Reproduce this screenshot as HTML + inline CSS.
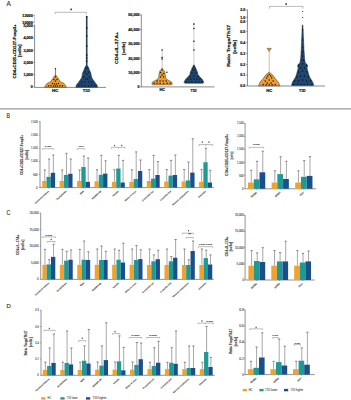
<!DOCTYPE html><html><head><meta charset="utf-8"><style>html,body{margin:0;padding:0;background:#fff;width:351px;height:400px;overflow:hidden}svg{display:block}</style></head><body><svg width="351" height="400" viewBox="0 0 351 400" font-family="Liberation Sans, sans-serif">
<rect width="351" height="400" fill="#fff"/>
<text x="6.5" y="6.0" font-size="6.6" text-anchor="start" font-weight="normal" fill="#333" stroke="#333" stroke-width="0.14" textLength="4.3" lengthAdjust="spacingAndGlyphs">A</text>
<line x1="34.6" y1="15" x2="34.6" y2="23.2" stroke="#999" stroke-width="0.5"/>
<line x1="34.6" y1="24.6" x2="34.6" y2="87.4" stroke="#3a3a3a" stroke-width="0.6"/>
<line x1="33.4" y1="15.5" x2="34.6" y2="15.5" stroke="#3a3a3a" stroke-width="0.5"/>
<text x="32.8" y="16.8" font-size="3.8" text-anchor="end" font-weight="bold" fill="#1a1a1a" stroke="#1a1a1a" stroke-width="0.22" textLength="10.5" lengthAdjust="spacingAndGlyphs">12000</text>
<line x1="33.4" y1="22.2" x2="34.6" y2="22.2" stroke="#3a3a3a" stroke-width="0.5"/>
<text x="32.8" y="23.5" font-size="3.8" text-anchor="end" font-weight="bold" fill="#1a1a1a" stroke="#1a1a1a" stroke-width="0.22" textLength="10.5" lengthAdjust="spacingAndGlyphs">10000</text>
<line x1="33.4" y1="25.8" x2="34.6" y2="25.8" stroke="#3a3a3a" stroke-width="0.5"/>
<text x="32.8" y="27.1" font-size="3.8" text-anchor="end" font-weight="bold" fill="#1a1a1a" stroke="#1a1a1a" stroke-width="0.22" textLength="9.4" lengthAdjust="spacingAndGlyphs">5,000</text>
<line x1="33.4" y1="38.1" x2="34.6" y2="38.1" stroke="#3a3a3a" stroke-width="0.5"/>
<text x="32.8" y="39.4" font-size="3.8" text-anchor="end" font-weight="bold" fill="#1a1a1a" stroke="#1a1a1a" stroke-width="0.22" textLength="9.4" lengthAdjust="spacingAndGlyphs">4,000</text>
<line x1="33.4" y1="50.3" x2="34.6" y2="50.3" stroke="#3a3a3a" stroke-width="0.5"/>
<text x="32.8" y="51.599999999999994" font-size="3.8" text-anchor="end" font-weight="bold" fill="#1a1a1a" stroke="#1a1a1a" stroke-width="0.22" textLength="9.4" lengthAdjust="spacingAndGlyphs">3,000</text>
<line x1="33.4" y1="62.4" x2="34.6" y2="62.4" stroke="#3a3a3a" stroke-width="0.5"/>
<text x="32.8" y="63.699999999999996" font-size="3.8" text-anchor="end" font-weight="bold" fill="#1a1a1a" stroke="#1a1a1a" stroke-width="0.22" textLength="9.4" lengthAdjust="spacingAndGlyphs">2,000</text>
<line x1="33.4" y1="74.6" x2="34.6" y2="74.6" stroke="#3a3a3a" stroke-width="0.5"/>
<text x="32.8" y="75.89999999999999" font-size="3.8" text-anchor="end" font-weight="bold" fill="#1a1a1a" stroke="#1a1a1a" stroke-width="0.22" textLength="9.4" lengthAdjust="spacingAndGlyphs">1,000</text>
<line x1="33.4" y1="86.9" x2="34.6" y2="86.9" stroke="#3a3a3a" stroke-width="0.5"/>
<text x="32.8" y="88.2" font-size="3.8" text-anchor="end" font-weight="bold" fill="#1a1a1a" stroke="#1a1a1a" stroke-width="0.22" textLength="2" lengthAdjust="spacingAndGlyphs">0</text>
<text x="16.1" y="51.4" font-size="3.9" text-anchor="middle" font-weight="bold" fill="#1a1a1a" stroke="#1a1a1a" stroke-width="0.22" transform="rotate(-90 16.1 51.4)" textLength="54" lengthAdjust="spacingAndGlyphs">CD4+CD25+CD127-Foxp3+</text>
<text x="21.4" y="50.7" font-size="3.9" text-anchor="middle" font-weight="bold" fill="#1a1a1a" stroke="#1a1a1a" stroke-width="0.22" transform="rotate(-90 21.4 50.7)" textLength="12.4" lengthAdjust="spacingAndGlyphs">[cells]</text>
<line x1="34.6" y1="87.4" x2="106" y2="87.4" stroke="#3a3a3a" stroke-width="0.6"/>
<text x="55.2" y="92.2" font-size="3.6" text-anchor="middle" font-weight="bold" fill="#1a1a1a" stroke="#1a1a1a" stroke-width="0.22" textLength="6.4" lengthAdjust="spacingAndGlyphs">HC</text>
<text x="86.4" y="92.2" font-size="3.6" text-anchor="middle" font-weight="bold" fill="#1a1a1a" stroke="#1a1a1a" stroke-width="0.22" textLength="7.2" lengthAdjust="spacingAndGlyphs">T1D</text>
<path d="M55.1 14.200000000000001 V12.3 H86.5 V14.200000000000001" fill="none" stroke="#6a6a6a" stroke-width="0.45"/>
<path d="M71.20 8.45 L71.20 10.35 M70.38 8.93 L72.02 9.88 M72.02 8.93 L70.38 9.88 " stroke="#111" stroke-width="0.55" fill="none"/>
<line x1="55.5" y1="68.7" x2="55.5" y2="75.5" stroke="#EE9E2E" stroke-width="1.2"/>
<line x1="55.5" y1="68.7" x2="55.5" y2="75.5" stroke="#444" stroke-width="0.35"/>
<circle cx="55.5" cy="68.7" r="0.65" fill="#1a1a1a"/>
<path d="M56.20 75.50 L57.30 77.00 L58.80 79.20 L60.10 81.50 L64.20 83.60 L66.20 86.70 L66.20 87.20 L44.80 87.20 L44.80 86.70 L46.80 83.60 L50.90 81.50 L52.20 79.20 L53.70 77.00 L54.80 75.50 Z" fill="#EE9E2E" stroke="#1a1a1a" stroke-width="0.45"/>
<circle cx="55.50" cy="77.00" r="0.78" fill="#1a1a1a"/>
<circle cx="54.00" cy="79.50" r="0.78" fill="#1a1a1a"/>
<circle cx="57.00" cy="79.50" r="0.78" fill="#1a1a1a"/>
<circle cx="55.50" cy="81.00" r="0.78" fill="#1a1a1a"/>
<circle cx="52.50" cy="83.50" r="0.78" fill="#1a1a1a"/>
<circle cx="54.50" cy="84.00" r="0.78" fill="#1a1a1a"/>
<circle cx="56.50" cy="84.00" r="0.78" fill="#1a1a1a"/>
<circle cx="58.50" cy="83.50" r="0.78" fill="#1a1a1a"/>
<circle cx="48.50" cy="85.80" r="0.78" fill="#1a1a1a"/>
<circle cx="51.00" cy="85.80" r="0.78" fill="#1a1a1a"/>
<circle cx="53.50" cy="86.00" r="0.78" fill="#1a1a1a"/>
<circle cx="55.50" cy="86.00" r="0.78" fill="#1a1a1a"/>
<circle cx="57.50" cy="86.00" r="0.78" fill="#1a1a1a"/>
<circle cx="60.00" cy="85.80" r="0.78" fill="#1a1a1a"/>
<circle cx="62.50" cy="85.80" r="0.78" fill="#1a1a1a"/>
<line x1="86.7" y1="16.7" x2="86.7" y2="67" stroke="#1d4775" stroke-width="1.6"/>
<line x1="86.7" y1="16.7" x2="86.7" y2="67" stroke="#444" stroke-width="0.35"/>
<circle cx="86.7" cy="16.7" r="0.85" fill="#1a1a1a"/>
<circle cx="86.7" cy="28" r="0.85" fill="#1a1a1a"/>
<circle cx="86.7" cy="36" r="0.85" fill="#1a1a1a"/>
<circle cx="86.7" cy="46" r="0.85" fill="#1a1a1a"/>
<circle cx="86.7" cy="55" r="0.85" fill="#1a1a1a"/>
<circle cx="86.7" cy="58" r="0.85" fill="#1a1a1a"/>
<circle cx="86.7" cy="61" r="0.85" fill="#1a1a1a"/>
<path d="M87.70 66.00 L88.70 68.00 L89.50 70.00 L91.00 73.50 L91.10 75.00 L91.90 78.00 L94.70 82.00 L97.20 85.30 L97.50 87.20 L75.90 87.20 L76.20 85.30 L78.70 82.00 L81.50 78.00 L82.30 75.00 L82.40 73.50 L83.90 70.00 L84.70 68.00 L85.70 66.00 Z" fill="#1d4775" stroke="#1a1a1a" stroke-width="0.45"/>
<circle cx="85.70" cy="68.00" r="0.78" fill="#1a1a1a"/>
<circle cx="87.70" cy="68.00" r="0.78" fill="#1a1a1a"/>
<circle cx="84.70" cy="72.00" r="0.78" fill="#1a1a1a"/>
<circle cx="88.70" cy="72.00" r="0.78" fill="#1a1a1a"/>
<circle cx="86.70" cy="74.00" r="0.78" fill="#1a1a1a"/>
<circle cx="83.70" cy="77.00" r="0.78" fill="#1a1a1a"/>
<circle cx="89.70" cy="77.00" r="0.78" fill="#1a1a1a"/>
<circle cx="85.70" cy="79.00" r="0.78" fill="#1a1a1a"/>
<circle cx="87.70" cy="79.00" r="0.78" fill="#1a1a1a"/>
<circle cx="81.70" cy="82.00" r="0.78" fill="#1a1a1a"/>
<circle cx="84.70" cy="82.00" r="0.78" fill="#1a1a1a"/>
<circle cx="88.70" cy="82.00" r="0.78" fill="#1a1a1a"/>
<circle cx="91.70" cy="82.00" r="0.78" fill="#1a1a1a"/>
<circle cx="78.70" cy="85.50" r="0.78" fill="#1a1a1a"/>
<circle cx="81.70" cy="85.00" r="0.78" fill="#1a1a1a"/>
<circle cx="84.70" cy="86.00" r="0.78" fill="#1a1a1a"/>
<circle cx="88.70" cy="86.00" r="0.78" fill="#1a1a1a"/>
<circle cx="91.70" cy="85.00" r="0.78" fill="#1a1a1a"/>
<circle cx="94.70" cy="85.50" r="0.78" fill="#1a1a1a"/>
<line x1="141.3" y1="14.5" x2="141.3" y2="86.9" stroke="#3a3a3a" stroke-width="0.6"/>
<line x1="140.1" y1="14.9" x2="141.3" y2="14.9" stroke="#3a3a3a" stroke-width="0.5"/>
<text x="139.5" y="16.2" font-size="3.8" text-anchor="end" font-weight="bold" fill="#1a1a1a" stroke="#1a1a1a" stroke-width="0.22" textLength="11.2" lengthAdjust="spacingAndGlyphs">50,000</text>
<line x1="140.1" y1="29.5" x2="141.3" y2="29.5" stroke="#3a3a3a" stroke-width="0.5"/>
<text x="139.5" y="30.8" font-size="3.8" text-anchor="end" font-weight="bold" fill="#1a1a1a" stroke="#1a1a1a" stroke-width="0.22" textLength="11.2" lengthAdjust="spacingAndGlyphs">40,000</text>
<line x1="140.1" y1="43.9" x2="141.3" y2="43.9" stroke="#3a3a3a" stroke-width="0.5"/>
<text x="139.5" y="45.199999999999996" font-size="3.8" text-anchor="end" font-weight="bold" fill="#1a1a1a" stroke="#1a1a1a" stroke-width="0.22" textLength="11.2" lengthAdjust="spacingAndGlyphs">30,000</text>
<line x1="140.1" y1="58.2" x2="141.3" y2="58.2" stroke="#3a3a3a" stroke-width="0.5"/>
<text x="139.5" y="59.5" font-size="3.8" text-anchor="end" font-weight="bold" fill="#1a1a1a" stroke="#1a1a1a" stroke-width="0.22" textLength="11.2" lengthAdjust="spacingAndGlyphs">20,000</text>
<line x1="140.1" y1="72.6" x2="141.3" y2="72.6" stroke="#3a3a3a" stroke-width="0.5"/>
<text x="139.5" y="73.89999999999999" font-size="3.8" text-anchor="end" font-weight="bold" fill="#1a1a1a" stroke="#1a1a1a" stroke-width="0.22" textLength="11.2" lengthAdjust="spacingAndGlyphs">10,000</text>
<line x1="140.1" y1="86.9" x2="141.3" y2="86.9" stroke="#3a3a3a" stroke-width="0.5"/>
<text x="139.5" y="88.2" font-size="3.8" text-anchor="end" font-weight="bold" fill="#1a1a1a" stroke="#1a1a1a" stroke-width="0.22" textLength="2" lengthAdjust="spacingAndGlyphs">0</text>
<text x="118.5" y="47.9" font-size="3.9" text-anchor="middle" font-weight="bold" fill="#1a1a1a" stroke="#1a1a1a" stroke-width="0.22" transform="rotate(-90 118.5 47.9)" textLength="32" lengthAdjust="spacingAndGlyphs">CD4+IL-17A+</text>
<text x="125.0" y="48.6" font-size="3.9" text-anchor="middle" font-weight="bold" fill="#1a1a1a" stroke="#1a1a1a" stroke-width="0.22" transform="rotate(-90 125.0 48.6)" textLength="13" lengthAdjust="spacingAndGlyphs">[cells]</text>
<line x1="141.3" y1="86.9" x2="214.5" y2="86.9" stroke="#3a3a3a" stroke-width="0.6"/>
<text x="162.2" y="91.0" font-size="3.6" text-anchor="middle" font-weight="bold" fill="#1a1a1a" stroke="#1a1a1a" stroke-width="0.22" textLength="5.6" lengthAdjust="spacingAndGlyphs">HC</text>
<text x="193.5" y="92.0" font-size="3.6" text-anchor="middle" font-weight="bold" fill="#1a1a1a" stroke="#1a1a1a" stroke-width="0.22" textLength="6.2" lengthAdjust="spacingAndGlyphs">T1D</text>
<line x1="162.1" y1="50" x2="162.1" y2="68.5" stroke="#666" stroke-width="0.35"/>
<circle cx="162.1" cy="50" r="0.8" fill="#1a1a1a"/>
<circle cx="162.1" cy="57.5" r="0.8" fill="#1a1a1a"/>
<circle cx="162.1" cy="59" r="0.8" fill="#1a1a1a"/>
<path d="M162.60 68.50 L162.90 69.40 L164.10 70.60 L164.90 72.50 L165.60 77.50 L166.60 79.20 L168.10 80.00 L171.60 81.90 L172.40 84.20 L171.60 84.80 L152.60 84.80 L151.80 84.20 L152.60 81.90 L156.10 80.00 L157.60 79.20 L158.60 77.50 L159.30 72.50 L160.10 70.60 L161.30 69.40 L161.60 68.50 Z" fill="#EE9E2E" stroke="#1a1a1a" stroke-width="0.45"/>
<circle cx="162.10" cy="70.00" r="0.78" fill="#1a1a1a"/>
<circle cx="160.60" cy="72.50" r="0.78" fill="#1a1a1a"/>
<circle cx="163.60" cy="73.50" r="0.78" fill="#1a1a1a"/>
<circle cx="166.90" cy="72.20" r="0.78" fill="#1a1a1a"/>
<circle cx="162.10" cy="75.00" r="0.78" fill="#1a1a1a"/>
<circle cx="160.60" cy="77.00" r="0.78" fill="#1a1a1a"/>
<circle cx="163.60" cy="77.00" r="0.78" fill="#1a1a1a"/>
<circle cx="157.10" cy="81.00" r="0.78" fill="#1a1a1a"/>
<circle cx="160.10" cy="81.00" r="0.78" fill="#1a1a1a"/>
<circle cx="163.10" cy="81.00" r="0.78" fill="#1a1a1a"/>
<circle cx="166.10" cy="81.00" r="0.78" fill="#1a1a1a"/>
<circle cx="154.10" cy="83.30" r="0.78" fill="#1a1a1a"/>
<circle cx="157.10" cy="83.30" r="0.78" fill="#1a1a1a"/>
<circle cx="160.10" cy="83.50" r="0.78" fill="#1a1a1a"/>
<circle cx="163.60" cy="83.50" r="0.78" fill="#1a1a1a"/>
<circle cx="167.10" cy="83.30" r="0.78" fill="#1a1a1a"/>
<circle cx="170.10" cy="83.30" r="0.78" fill="#1a1a1a"/>
<line x1="193.9" y1="23.1" x2="193.9" y2="65" stroke="#666" stroke-width="0.35"/>
<circle cx="193.9" cy="24.1" r="0.8" fill="#1a1a1a"/>
<circle cx="193.9" cy="28.5" r="0.8" fill="#1a1a1a"/>
<circle cx="193.9" cy="41.25" r="0.8" fill="#1a1a1a"/>
<circle cx="193.9" cy="50" r="0.8" fill="#1a1a1a"/>
<path d="M194.40 65.00 L194.70 66.30 L195.90 68.10 L196.40 70.00 L197.50 71.90 L197.90 74.40 L199.90 76.90 L202.40 79.40 L203.90 82.50 L202.40 83.30 L185.40 83.30 L183.90 82.50 L185.40 79.40 L187.90 76.90 L189.90 74.40 L190.30 71.90 L191.40 70.00 L191.90 68.10 L193.10 66.30 L193.40 65.00 Z" fill="#1d4775" stroke="#1a1a1a" stroke-width="0.45"/>
<circle cx="193.90" cy="67.00" r="0.78" fill="#1a1a1a"/>
<circle cx="192.90" cy="70.00" r="0.78" fill="#1a1a1a"/>
<circle cx="194.90" cy="70.00" r="0.78" fill="#1a1a1a"/>
<circle cx="191.90" cy="73.00" r="0.78" fill="#1a1a1a"/>
<circle cx="195.90" cy="73.00" r="0.78" fill="#1a1a1a"/>
<circle cx="189.90" cy="76.50" r="0.78" fill="#1a1a1a"/>
<circle cx="193.90" cy="76.00" r="0.78" fill="#1a1a1a"/>
<circle cx="197.90" cy="76.50" r="0.78" fill="#1a1a1a"/>
<circle cx="187.90" cy="79.00" r="0.78" fill="#1a1a1a"/>
<circle cx="190.90" cy="79.00" r="0.78" fill="#1a1a1a"/>
<circle cx="193.90" cy="79.00" r="0.78" fill="#1a1a1a"/>
<circle cx="196.90" cy="79.00" r="0.78" fill="#1a1a1a"/>
<circle cx="199.90" cy="79.00" r="0.78" fill="#1a1a1a"/>
<circle cx="185.90" cy="82.00" r="0.78" fill="#1a1a1a"/>
<circle cx="188.90" cy="82.00" r="0.78" fill="#1a1a1a"/>
<circle cx="191.90" cy="82.00" r="0.78" fill="#1a1a1a"/>
<circle cx="195.90" cy="82.00" r="0.78" fill="#1a1a1a"/>
<circle cx="198.90" cy="82.00" r="0.78" fill="#1a1a1a"/>
<circle cx="201.90" cy="82.00" r="0.78" fill="#1a1a1a"/>
<line x1="247.4" y1="9.5" x2="247.4" y2="86.0" stroke="#3a3a3a" stroke-width="0.6"/>
<line x1="246.2" y1="9.9" x2="247.4" y2="9.9" stroke="#3a3a3a" stroke-width="0.5"/>
<text x="245.2" y="11.200000000000001" font-size="3.8" text-anchor="end" font-weight="bold" fill="#1a1a1a" stroke="#1a1a1a" stroke-width="0.22" textLength="5" lengthAdjust="spacingAndGlyphs">2.0</text>
<line x1="246.2" y1="17.2" x2="247.4" y2="17.2" stroke="#3a3a3a" stroke-width="0.5"/>
<text x="245.2" y="18.5" font-size="3.8" text-anchor="end" font-weight="bold" fill="#1a1a1a" stroke="#1a1a1a" stroke-width="0.22" textLength="5" lengthAdjust="spacingAndGlyphs">1.0</text>
<line x1="246.2" y1="21.3" x2="247.4" y2="21.3" stroke="#3a3a3a" stroke-width="0.5"/>
<text x="245.2" y="22.6" font-size="3.8" text-anchor="end" font-weight="bold" fill="#1a1a1a" stroke="#1a1a1a" stroke-width="0.22" textLength="5" lengthAdjust="spacingAndGlyphs">0.8</text>
<line x1="246.2" y1="31.4" x2="247.4" y2="31.4" stroke="#3a3a3a" stroke-width="0.5"/>
<text x="245.2" y="32.699999999999996" font-size="3.8" text-anchor="end" font-weight="bold" fill="#1a1a1a" stroke="#1a1a1a" stroke-width="0.22" textLength="5" lengthAdjust="spacingAndGlyphs">0.5</text>
<line x1="246.2" y1="42.7" x2="247.4" y2="42.7" stroke="#3a3a3a" stroke-width="0.5"/>
<text x="245.2" y="44.0" font-size="3.8" text-anchor="end" font-weight="bold" fill="#1a1a1a" stroke="#1a1a1a" stroke-width="0.22" textLength="5" lengthAdjust="spacingAndGlyphs">0.4</text>
<line x1="246.2" y1="53.6" x2="247.4" y2="53.6" stroke="#3a3a3a" stroke-width="0.5"/>
<text x="245.2" y="54.9" font-size="3.8" text-anchor="end" font-weight="bold" fill="#1a1a1a" stroke="#1a1a1a" stroke-width="0.22" textLength="5" lengthAdjust="spacingAndGlyphs">0.3</text>
<line x1="246.2" y1="64.5" x2="247.4" y2="64.5" stroke="#3a3a3a" stroke-width="0.5"/>
<text x="245.2" y="65.8" font-size="3.8" text-anchor="end" font-weight="bold" fill="#1a1a1a" stroke="#1a1a1a" stroke-width="0.22" textLength="5" lengthAdjust="spacingAndGlyphs">0.2</text>
<line x1="246.2" y1="75.0" x2="247.4" y2="75.0" stroke="#3a3a3a" stroke-width="0.5"/>
<text x="245.2" y="76.3" font-size="3.8" text-anchor="end" font-weight="bold" fill="#1a1a1a" stroke="#1a1a1a" stroke-width="0.22" textLength="5" lengthAdjust="spacingAndGlyphs">0.1</text>
<line x1="246.2" y1="86.0" x2="247.4" y2="86.0" stroke="#3a3a3a" stroke-width="0.5"/>
<text x="245.2" y="87.3" font-size="3.8" text-anchor="end" font-weight="bold" fill="#1a1a1a" stroke="#1a1a1a" stroke-width="0.22" textLength="5" lengthAdjust="spacingAndGlyphs">0.0</text>
<text x="229.6" y="45.8" font-size="3.9" text-anchor="middle" font-weight="bold" fill="#1a1a1a" stroke="#1a1a1a" stroke-width="0.22" transform="rotate(-90 229.6 45.8)" textLength="42" lengthAdjust="spacingAndGlyphs">Ratio Tregs/Th17</text>
<text x="235.6" y="46.8" font-size="3.9" text-anchor="middle" font-weight="bold" fill="#1a1a1a" stroke="#1a1a1a" stroke-width="0.22" transform="rotate(-90 235.6 46.8)" textLength="13.9" lengthAdjust="spacingAndGlyphs">[cells]</text>
<line x1="247.4" y1="86.0" x2="325" y2="86.0" stroke="#3a3a3a" stroke-width="0.6"/>
<text x="269.2" y="91.6" font-size="3.6" text-anchor="middle" font-weight="bold" fill="#1a1a1a" stroke="#1a1a1a" stroke-width="0.22" textLength="5.8" lengthAdjust="spacingAndGlyphs">HC</text>
<text x="302.3" y="92.0" font-size="3.6" text-anchor="middle" font-weight="bold" fill="#1a1a1a" stroke="#1a1a1a" stroke-width="0.22" textLength="6.6" lengthAdjust="spacingAndGlyphs">T1D</text>
<path d="M269.5 8.7 V6.4 H303 V8.7" fill="none" stroke="#6a6a6a" stroke-width="0.45"/>
<path d="M286.20 3.15 L286.20 5.05 M285.38 3.62 L287.02 4.57 M287.02 3.62 L285.38 4.57 " stroke="#111" stroke-width="0.55" fill="none"/>
<line x1="269.2" y1="50" x2="269.2" y2="72.5" stroke="#b07020" stroke-width="0.45"/>
<path d="M267.0 48.3 L271.4 48.3 L269.2 51.4 Z" fill="#E8902A" stroke="#333" stroke-width="0.4"/>
<path d="M269.60 72.30 L270.40 73.00 L272.70 75.00 L275.20 78.50 L278.20 82.00 L279.80 85.40 L279.80 85.80 L258.60 85.80 L258.60 85.40 L260.20 82.00 L263.20 78.50 L265.70 75.00 L268.00 73.00 L268.80 72.30 Z" fill="#EE9E2E" stroke="#1a1a1a" stroke-width="0.45"/>
<circle cx="269.20" cy="74.50" r="0.78" fill="#1a1a1a"/>
<circle cx="267.70" cy="76.00" r="0.78" fill="#1a1a1a"/>
<circle cx="270.70" cy="76.00" r="0.78" fill="#1a1a1a"/>
<circle cx="266.70" cy="78.00" r="0.78" fill="#1a1a1a"/>
<circle cx="271.70" cy="78.00" r="0.78" fill="#1a1a1a"/>
<circle cx="269.20" cy="80.00" r="0.78" fill="#1a1a1a"/>
<circle cx="265.20" cy="81.00" r="0.78" fill="#1a1a1a"/>
<circle cx="273.20" cy="81.00" r="0.78" fill="#1a1a1a"/>
<circle cx="267.20" cy="83.00" r="0.78" fill="#1a1a1a"/>
<circle cx="271.20" cy="83.00" r="0.78" fill="#1a1a1a"/>
<circle cx="263.20" cy="84.50" r="0.78" fill="#1a1a1a"/>
<circle cx="266.20" cy="84.80" r="0.78" fill="#1a1a1a"/>
<circle cx="269.20" cy="84.50" r="0.78" fill="#1a1a1a"/>
<circle cx="272.20" cy="84.80" r="0.78" fill="#1a1a1a"/>
<circle cx="275.20" cy="84.50" r="0.78" fill="#1a1a1a"/>
<circle cx="302.6" cy="11.5" r="0.6" fill="#1a1a1a"/>
<circle cx="302.6" cy="17.5" r="0.6" fill="#1a1a1a"/>
<path d="M302.90 25.00 L303.50 38.80 L304.00 50.00 L304.60 59.00 L305.30 63.00 L307.20 64.50 L307.60 66.50 L307.00 68.00 L308.20 72.60 L309.60 77.00 L312.40 81.60 L313.40 83.80 L313.60 85.40 L291.60 85.40 L291.80 83.80 L292.80 81.60 L295.60 77.00 L297.00 72.60 L298.20 68.00 L297.60 66.50 L298.00 64.50 L299.90 63.00 L300.60 59.00 L301.20 50.00 L301.70 38.80 L302.30 25.00 Z" fill="#1d4775" stroke="#1a1a1a" stroke-width="0.45"/>
<circle cx="302.60" cy="30.00" r="0.78" fill="#1a1a1a"/>
<circle cx="302.60" cy="40.00" r="0.78" fill="#1a1a1a"/>
<circle cx="302.60" cy="47.00" r="0.78" fill="#1a1a1a"/>
<circle cx="302.60" cy="52.00" r="0.78" fill="#1a1a1a"/>
<circle cx="302.60" cy="56.00" r="0.78" fill="#1a1a1a"/>
<circle cx="301.60" cy="60.00" r="0.78" fill="#1a1a1a"/>
<circle cx="303.60" cy="60.00" r="0.78" fill="#1a1a1a"/>
<circle cx="298.60" cy="65.50" r="0.78" fill="#1a1a1a"/>
<circle cx="306.60" cy="65.50" r="0.78" fill="#1a1a1a"/>
<circle cx="302.60" cy="64.00" r="0.78" fill="#1a1a1a"/>
<circle cx="300.60" cy="68.00" r="0.78" fill="#1a1a1a"/>
<circle cx="304.60" cy="68.00" r="0.78" fill="#1a1a1a"/>
<circle cx="298.60" cy="72.00" r="0.78" fill="#1a1a1a"/>
<circle cx="302.60" cy="71.00" r="0.78" fill="#1a1a1a"/>
<circle cx="306.60" cy="72.00" r="0.78" fill="#1a1a1a"/>
<circle cx="297.10" cy="77.00" r="0.78" fill="#1a1a1a"/>
<circle cx="300.60" cy="76.00" r="0.78" fill="#1a1a1a"/>
<circle cx="304.60" cy="76.00" r="0.78" fill="#1a1a1a"/>
<circle cx="308.10" cy="77.00" r="0.78" fill="#1a1a1a"/>
<circle cx="294.60" cy="81.00" r="0.78" fill="#1a1a1a"/>
<circle cx="298.60" cy="81.00" r="0.78" fill="#1a1a1a"/>
<circle cx="302.60" cy="80.00" r="0.78" fill="#1a1a1a"/>
<circle cx="306.60" cy="81.00" r="0.78" fill="#1a1a1a"/>
<circle cx="310.60" cy="81.00" r="0.78" fill="#1a1a1a"/>
<circle cx="293.60" cy="84.50" r="0.78" fill="#1a1a1a"/>
<circle cx="297.60" cy="84.00" r="0.78" fill="#1a1a1a"/>
<circle cx="301.10" cy="84.50" r="0.78" fill="#1a1a1a"/>
<circle cx="304.10" cy="84.50" r="0.78" fill="#1a1a1a"/>
<circle cx="307.60" cy="84.00" r="0.78" fill="#1a1a1a"/>
<circle cx="311.60" cy="84.50" r="0.78" fill="#1a1a1a"/>
<line x1="0" y1="108.9" x2="351" y2="108.9" stroke="#999" stroke-width="1.1"/>
<text x="6.6" y="118.3" font-size="6.6" text-anchor="start" font-weight="normal" fill="#333" stroke="#333" stroke-width="0.14" textLength="3.5" lengthAdjust="spacingAndGlyphs">B</text>
<line x1="40.0" y1="121.2" x2="40.0" y2="187.5" stroke="#5a5a5a" stroke-width="0.65"/>
<line x1="38.9" y1="121.8" x2="40.0" y2="121.8" stroke="#5a5a5a" stroke-width="0.5"/>
<text x="37.6" y="122.8" font-size="3.2" text-anchor="end" font-weight="normal" fill="#4a4a4a" stroke="#4a4a4a" stroke-width="0.1" textLength="6.6" lengthAdjust="spacingAndGlyphs">2,500</text>
<line x1="38.9" y1="135" x2="40.0" y2="135" stroke="#5a5a5a" stroke-width="0.5"/>
<text x="37.6" y="136.0" font-size="3.2" text-anchor="end" font-weight="normal" fill="#4a4a4a" stroke="#4a4a4a" stroke-width="0.1" textLength="6.6" lengthAdjust="spacingAndGlyphs">2,000</text>
<line x1="38.9" y1="148.1" x2="40.0" y2="148.1" stroke="#5a5a5a" stroke-width="0.5"/>
<text x="37.6" y="149.1" font-size="3.2" text-anchor="end" font-weight="normal" fill="#4a4a4a" stroke="#4a4a4a" stroke-width="0.1" textLength="6.6" lengthAdjust="spacingAndGlyphs">1,500</text>
<line x1="38.9" y1="161.3" x2="40.0" y2="161.3" stroke="#5a5a5a" stroke-width="0.5"/>
<text x="37.6" y="162.3" font-size="3.2" text-anchor="end" font-weight="normal" fill="#4a4a4a" stroke="#4a4a4a" stroke-width="0.1" textLength="6.6" lengthAdjust="spacingAndGlyphs">1,000</text>
<line x1="38.9" y1="174.5" x2="40.0" y2="174.5" stroke="#5a5a5a" stroke-width="0.5"/>
<text x="37.6" y="175.5" font-size="3.2" text-anchor="end" font-weight="normal" fill="#4a4a4a" stroke="#4a4a4a" stroke-width="0.1" textLength="4.6" lengthAdjust="spacingAndGlyphs">500</text>
<line x1="38.9" y1="187.5" x2="40.0" y2="187.5" stroke="#5a5a5a" stroke-width="0.5"/>
<text x="37.6" y="188.5" font-size="3.2" text-anchor="end" font-weight="normal" fill="#4a4a4a" stroke="#4a4a4a" stroke-width="0.1" textLength="1.5" lengthAdjust="spacingAndGlyphs">0</text>
<text x="22.9" y="155" font-size="2.7" text-anchor="middle" font-weight="bold" fill="#3a3a3a" stroke="#3a3a3a" stroke-width="0.1" transform="rotate(-90 22.9 155)" textLength="40" lengthAdjust="spacingAndGlyphs">CD4+CD25+CD127-Foxp3+</text>
<text x="27.9" y="154.7" font-size="3.2" text-anchor="middle" font-weight="bold" fill="#3a3a3a" stroke="#3a3a3a" stroke-width="0.1" transform="rotate(-90 27.9 154.7)" textLength="9.4" lengthAdjust="spacingAndGlyphs">[cells]</text>
<line x1="40" y1="187.6" x2="213.8" y2="187.6" stroke="#5a5a5a" stroke-width="0.65"/>
<line x1="44.75" y1="170" x2="44.75" y2="181" stroke="#8a8a8a" stroke-width="0.75"/>
<line x1="43.65" y1="170" x2="45.85" y2="170" stroke="#6a6a6a" stroke-width="0.8"/>
<rect x="42.20" y="181.00" width="4.30" height="6.60" fill="#F2A22C"/>
<line x1="49.05" y1="159" x2="49.05" y2="176.8" stroke="#8a8a8a" stroke-width="0.75"/>
<line x1="47.949999999999996" y1="159" x2="50.15" y2="159" stroke="#6a6a6a" stroke-width="0.8"/>
<rect x="46.50" y="176.80" width="4.30" height="10.80" fill="#1E9A95"/>
<line x1="53.35" y1="155" x2="53.35" y2="172.8" stroke="#8a8a8a" stroke-width="0.75"/>
<line x1="52.25" y1="155" x2="54.45" y2="155" stroke="#6a6a6a" stroke-width="0.8"/>
<rect x="50.80" y="172.80" width="4.30" height="14.80" fill="#1B4F8C"/>
<line x1="48.650000000000006" y1="187.6" x2="48.650000000000006" y2="188.6" stroke="#5a5a5a" stroke-width="0.5"/>
<text x="49.150000000000006" y="191.5" font-size="2.0" text-anchor="end" font-weight="bold" fill="#5a5a5a" stroke="#5a5a5a" stroke-width="0.12" transform="rotate(-42 49.150000000000006 191.5)" textLength="18.5" lengthAdjust="spacingAndGlyphs">Gestational diabetes</text>
<line x1="62.18" y1="170" x2="62.18" y2="181" stroke="#8a8a8a" stroke-width="0.75"/>
<line x1="61.08" y1="170" x2="63.28" y2="170" stroke="#6a6a6a" stroke-width="0.8"/>
<rect x="59.63" y="181.00" width="4.30" height="6.60" fill="#F2A22C"/>
<line x1="66.48" y1="153.3" x2="66.48" y2="175" stroke="#8a8a8a" stroke-width="0.75"/>
<line x1="65.38000000000001" y1="153.3" x2="67.58" y2="153.3" stroke="#6a6a6a" stroke-width="0.8"/>
<rect x="63.93" y="175.00" width="4.30" height="12.60" fill="#1E9A95"/>
<line x1="70.78000000000002" y1="159" x2="70.78000000000002" y2="173.8" stroke="#8a8a8a" stroke-width="0.75"/>
<line x1="69.68000000000002" y1="159" x2="71.88000000000001" y2="159" stroke="#6a6a6a" stroke-width="0.8"/>
<rect x="68.23" y="173.80" width="4.30" height="13.80" fill="#1B4F8C"/>
<line x1="66.08" y1="187.6" x2="66.08" y2="188.6" stroke="#5a5a5a" stroke-width="0.5"/>
<text x="66.58" y="191.5" font-size="2.0" text-anchor="end" font-weight="bold" fill="#5a5a5a" stroke="#5a5a5a" stroke-width="0.12" transform="rotate(-42 66.58 191.5)" textLength="12.5" lengthAdjust="spacingAndGlyphs">Dyslipidemia</text>
<line x1="79.61000000000001" y1="170" x2="79.61000000000001" y2="181" stroke="#8a8a8a" stroke-width="0.75"/>
<line x1="78.51000000000002" y1="170" x2="80.71000000000001" y2="170" stroke="#6a6a6a" stroke-width="0.8"/>
<rect x="77.06" y="181.00" width="4.30" height="6.60" fill="#F2A22C"/>
<line x1="83.91000000000001" y1="156" x2="83.91000000000001" y2="167" stroke="#8a8a8a" stroke-width="0.75"/>
<line x1="82.81000000000002" y1="156" x2="85.01" y2="156" stroke="#6a6a6a" stroke-width="0.8"/>
<rect x="81.36" y="167.00" width="4.30" height="20.60" fill="#1E9A95"/>
<line x1="88.21000000000001" y1="158" x2="88.21000000000001" y2="181.9" stroke="#8a8a8a" stroke-width="0.75"/>
<line x1="87.11000000000001" y1="158" x2="89.31" y2="158" stroke="#6a6a6a" stroke-width="0.8"/>
<rect x="85.66" y="181.90" width="4.30" height="5.70" fill="#1B4F8C"/>
<line x1="83.51" y1="187.6" x2="83.51" y2="188.6" stroke="#5a5a5a" stroke-width="0.5"/>
<text x="84.01" y="191.5" font-size="2.0" text-anchor="end" font-weight="bold" fill="#5a5a5a" stroke="#5a5a5a" stroke-width="0.12" transform="rotate(-42 84.01 191.5)" textLength="4.5" lengthAdjust="spacingAndGlyphs">BMI</text>
<line x1="97.04000000000002" y1="169.8" x2="97.04000000000002" y2="181.3" stroke="#8a8a8a" stroke-width="0.75"/>
<line x1="95.94000000000003" y1="169.8" x2="98.14000000000001" y2="169.8" stroke="#6a6a6a" stroke-width="0.8"/>
<rect x="94.49" y="181.30" width="4.30" height="6.30" fill="#F2A22C"/>
<line x1="101.34000000000002" y1="155.3" x2="101.34000000000002" y2="174.8" stroke="#8a8a8a" stroke-width="0.75"/>
<line x1="100.24000000000002" y1="155.3" x2="102.44000000000001" y2="155.3" stroke="#6a6a6a" stroke-width="0.8"/>
<rect x="98.79" y="174.80" width="4.30" height="12.80" fill="#1E9A95"/>
<line x1="105.64000000000001" y1="160.8" x2="105.64000000000001" y2="173.6" stroke="#8a8a8a" stroke-width="0.75"/>
<line x1="104.54000000000002" y1="160.8" x2="106.74000000000001" y2="160.8" stroke="#6a6a6a" stroke-width="0.8"/>
<rect x="103.09" y="173.60" width="4.30" height="14.00" fill="#1B4F8C"/>
<line x1="100.94000000000001" y1="187.6" x2="100.94000000000001" y2="188.6" stroke="#5a5a5a" stroke-width="0.5"/>
<text x="101.44000000000001" y="191.5" font-size="2.0" text-anchor="end" font-weight="bold" fill="#5a5a5a" stroke="#5a5a5a" stroke-width="0.12" transform="rotate(-42 101.44000000000001 191.5)" textLength="12" lengthAdjust="spacingAndGlyphs">HOMA-IR</text>
<line x1="114.47000000000001" y1="169.8" x2="114.47000000000001" y2="181.8" stroke="#8a8a8a" stroke-width="0.75"/>
<line x1="113.37000000000002" y1="169.8" x2="115.57000000000001" y2="169.8" stroke="#6a6a6a" stroke-width="0.8"/>
<rect x="111.92" y="181.80" width="4.30" height="5.80" fill="#F2A22C"/>
<line x1="118.77000000000001" y1="155.3" x2="118.77000000000001" y2="168.5" stroke="#8a8a8a" stroke-width="0.75"/>
<line x1="117.67000000000002" y1="155.3" x2="119.87" y2="155.3" stroke="#6a6a6a" stroke-width="0.8"/>
<rect x="116.22" y="168.50" width="4.30" height="19.10" fill="#1E9A95"/>
<line x1="123.07000000000001" y1="160.4" x2="123.07000000000001" y2="182.5" stroke="#8a8a8a" stroke-width="0.75"/>
<line x1="121.97000000000001" y1="160.4" x2="124.17" y2="160.4" stroke="#6a6a6a" stroke-width="0.8"/>
<rect x="120.52" y="182.50" width="4.30" height="5.10" fill="#1B4F8C"/>
<line x1="118.37" y1="187.6" x2="118.37" y2="188.6" stroke="#5a5a5a" stroke-width="0.5"/>
<text x="118.87" y="191.5" font-size="2.0" text-anchor="end" font-weight="bold" fill="#5a5a5a" stroke="#5a5a5a" stroke-width="0.12" transform="rotate(-42 118.87 191.5)" textLength="7.5" lengthAdjust="spacingAndGlyphs">Insulin</text>
<line x1="131.90000000000003" y1="169.8" x2="131.90000000000003" y2="181.8" stroke="#8a8a8a" stroke-width="0.75"/>
<line x1="130.80000000000004" y1="169.8" x2="133.00000000000003" y2="169.8" stroke="#6a6a6a" stroke-width="0.8"/>
<rect x="129.35" y="181.80" width="4.30" height="5.80" fill="#F2A22C"/>
<line x1="136.20000000000005" y1="151.9" x2="136.20000000000005" y2="179" stroke="#8a8a8a" stroke-width="0.75"/>
<line x1="135.10000000000005" y1="151.9" x2="137.30000000000004" y2="151.9" stroke="#6a6a6a" stroke-width="0.8"/>
<rect x="133.65" y="179.00" width="4.30" height="8.60" fill="#1E9A95"/>
<line x1="140.50000000000003" y1="160" x2="140.50000000000003" y2="171" stroke="#8a8a8a" stroke-width="0.75"/>
<line x1="139.40000000000003" y1="160" x2="141.60000000000002" y2="160" stroke="#6a6a6a" stroke-width="0.8"/>
<rect x="137.95" y="171.00" width="4.30" height="16.60" fill="#1B4F8C"/>
<line x1="135.8" y1="187.6" x2="135.8" y2="188.6" stroke="#5a5a5a" stroke-width="0.5"/>
<text x="136.3" y="191.5" font-size="2.0" text-anchor="end" font-weight="bold" fill="#5a5a5a" stroke="#5a5a5a" stroke-width="0.12" transform="rotate(-42 136.3 191.5)" textLength="14.5" lengthAdjust="spacingAndGlyphs">HbA1c at onset</text>
<line x1="149.33" y1="169.6" x2="149.33" y2="181" stroke="#8a8a8a" stroke-width="0.75"/>
<line x1="148.23000000000002" y1="169.6" x2="150.43" y2="169.6" stroke="#6a6a6a" stroke-width="0.8"/>
<rect x="146.78" y="181.00" width="4.30" height="6.60" fill="#F2A22C"/>
<line x1="153.63000000000002" y1="155.4" x2="153.63000000000002" y2="178.6" stroke="#8a8a8a" stroke-width="0.75"/>
<line x1="152.53000000000003" y1="155.4" x2="154.73000000000002" y2="155.4" stroke="#6a6a6a" stroke-width="0.8"/>
<rect x="151.08" y="178.60" width="4.30" height="9.00" fill="#1E9A95"/>
<line x1="157.93" y1="161.6" x2="157.93" y2="175" stroke="#8a8a8a" stroke-width="0.75"/>
<line x1="156.83" y1="161.6" x2="159.03" y2="161.6" stroke="#6a6a6a" stroke-width="0.8"/>
<rect x="155.38" y="175.00" width="4.30" height="12.60" fill="#1B4F8C"/>
<line x1="153.23" y1="187.6" x2="153.23" y2="188.6" stroke="#5a5a5a" stroke-width="0.5"/>
<text x="153.73" y="191.5" font-size="2.0" text-anchor="end" font-weight="bold" fill="#5a5a5a" stroke="#5a5a5a" stroke-width="0.12" transform="rotate(-42 153.73 191.5)" textLength="14.8" lengthAdjust="spacingAndGlyphs">C-peptide 1st</text>
<line x1="166.76" y1="169.6" x2="166.76" y2="181.4" stroke="#8a8a8a" stroke-width="0.75"/>
<line x1="165.66" y1="169.6" x2="167.85999999999999" y2="169.6" stroke="#6a6a6a" stroke-width="0.8"/>
<rect x="164.21" y="181.40" width="4.30" height="6.20" fill="#F2A22C"/>
<line x1="171.06" y1="160.4" x2="171.06" y2="175.6" stroke="#8a8a8a" stroke-width="0.75"/>
<line x1="169.96" y1="160.4" x2="172.16" y2="160.4" stroke="#6a6a6a" stroke-width="0.8"/>
<rect x="168.51" y="175.60" width="4.30" height="12.00" fill="#1E9A95"/>
<line x1="175.35999999999999" y1="155" x2="175.35999999999999" y2="175" stroke="#8a8a8a" stroke-width="0.75"/>
<line x1="174.26" y1="155" x2="176.45999999999998" y2="155" stroke="#6a6a6a" stroke-width="0.8"/>
<rect x="172.81" y="175.00" width="4.30" height="12.60" fill="#1B4F8C"/>
<line x1="170.65999999999997" y1="187.6" x2="170.65999999999997" y2="188.6" stroke="#5a5a5a" stroke-width="0.5"/>
<text x="171.15999999999997" y="191.5" font-size="2.0" text-anchor="end" font-weight="bold" fill="#5a5a5a" stroke="#5a5a5a" stroke-width="0.12" transform="rotate(-42 171.15999999999997 191.5)" textLength="14.3" lengthAdjust="spacingAndGlyphs">C-peptide 2nd</text>
<line x1="184.19" y1="169.6" x2="184.19" y2="181.4" stroke="#8a8a8a" stroke-width="0.75"/>
<line x1="183.09" y1="169.6" x2="185.29" y2="169.6" stroke="#6a6a6a" stroke-width="0.8"/>
<rect x="181.64" y="181.40" width="4.30" height="6.20" fill="#F2A22C"/>
<line x1="188.49" y1="162" x2="188.49" y2="180.4" stroke="#8a8a8a" stroke-width="0.75"/>
<line x1="187.39000000000001" y1="162" x2="189.59" y2="162" stroke="#6a6a6a" stroke-width="0.8"/>
<rect x="185.94" y="180.40" width="4.30" height="7.20" fill="#1E9A95"/>
<line x1="192.79" y1="138.8" x2="192.79" y2="172.6" stroke="#8a8a8a" stroke-width="0.75"/>
<line x1="191.69" y1="138.8" x2="193.89" y2="138.8" stroke="#6a6a6a" stroke-width="0.8"/>
<rect x="190.24" y="172.60" width="4.30" height="15.00" fill="#1B4F8C"/>
<line x1="188.08999999999997" y1="187.6" x2="188.08999999999997" y2="188.6" stroke="#5a5a5a" stroke-width="0.5"/>
<text x="188.58999999999997" y="191.5" font-size="2.0" text-anchor="end" font-weight="bold" fill="#5a5a5a" stroke="#5a5a5a" stroke-width="0.12" transform="rotate(-42 188.58999999999997 191.5)" textLength="21" lengthAdjust="spacingAndGlyphs">Maternal complications</text>
<line x1="201.62" y1="169.6" x2="201.62" y2="182" stroke="#8a8a8a" stroke-width="0.75"/>
<line x1="200.52" y1="169.6" x2="202.72" y2="169.6" stroke="#6a6a6a" stroke-width="0.8"/>
<rect x="199.07" y="182.00" width="4.30" height="5.60" fill="#F2A22C"/>
<line x1="205.92000000000002" y1="148.3" x2="205.92000000000002" y2="162.2" stroke="#8a8a8a" stroke-width="0.75"/>
<line x1="204.82000000000002" y1="148.3" x2="207.02" y2="148.3" stroke="#6a6a6a" stroke-width="0.8"/>
<rect x="203.37" y="162.20" width="4.30" height="25.40" fill="#1E9A95"/>
<line x1="210.22" y1="170.3" x2="210.22" y2="182.5" stroke="#8a8a8a" stroke-width="0.75"/>
<line x1="209.12" y1="170.3" x2="211.32" y2="170.3" stroke="#6a6a6a" stroke-width="0.8"/>
<rect x="207.67" y="182.50" width="4.30" height="5.10" fill="#1B4F8C"/>
<line x1="205.51999999999998" y1="187.6" x2="205.51999999999998" y2="188.6" stroke="#5a5a5a" stroke-width="0.5"/>
<text x="206.01999999999998" y="191.5" font-size="2.0" text-anchor="end" font-weight="bold" fill="#5a5a5a" stroke="#5a5a5a" stroke-width="0.12" transform="rotate(-42 206.01999999999998 191.5)" textLength="9.5" lengthAdjust="spacingAndGlyphs">Obesity</text>
<path d="M42.4 149.79999999999998 V148.7 H53.7 V149.79999999999998" fill="none" stroke="#6a6a6a" stroke-width="0.45"/>
<text x="48.05" y="147.2" font-size="2.2" text-anchor="middle" font-weight="normal" fill="#4a4a4a" stroke="#4a4a4a" stroke-width="0.14" textLength="6.4" lengthAdjust="spacingAndGlyphs">0.xxx</text>
<path d="M77.3 149.79999999999998 V148.7 H84.8 V149.79999999999998" fill="none" stroke="#6a6a6a" stroke-width="0.45"/>
<text x="81.05" y="147.4" font-size="2.2" text-anchor="middle" font-weight="normal" fill="#4a4a4a" stroke="#4a4a4a" stroke-width="0.14" textLength="4.7" lengthAdjust="spacingAndGlyphs">0.xxx</text>
<path d="M111.4 148.70000000000002 V147.3 H125 V148.70000000000002 M118.5 147.3 V148.70000000000002" fill="none" stroke="#6a6a6a" stroke-width="0.45"/>
<path d="M114.60 144.85 L114.60 146.15 M114.04 145.18 L115.16 145.82 M115.16 145.18 L114.04 145.82 " stroke="#111" stroke-width="0.4" fill="none"/>
<path d="M121.70 144.85 L121.70 146.15 M121.14 145.18 L122.26 145.82 M122.26 145.18 L121.14 145.82 " stroke="#111" stroke-width="0.4" fill="none"/>
<path d="M199 146.2 V144.6 H212.6 V146.2 M205.8 144.6 V146.2" fill="none" stroke="#6a6a6a" stroke-width="0.45"/>
<path d="M202.30 141.45 L202.30 142.75 M201.74 141.78 L202.86 142.42 M202.86 141.78 L201.74 142.42 " stroke="#111" stroke-width="0.4" fill="none"/>
<path d="M209.00 141.45 L209.00 142.75 M208.44 141.78 L209.56 142.42 M209.56 141.78 L208.44 142.42 " stroke="#111" stroke-width="0.4" fill="none"/>
<line x1="245.1" y1="123.2" x2="245.1" y2="188.7" stroke="#5a5a5a" stroke-width="0.65"/>
<line x1="244.0" y1="123.4" x2="245.1" y2="123.4" stroke="#5a5a5a" stroke-width="0.5"/>
<text x="243.6" y="124.4" font-size="3.2" text-anchor="end" font-weight="normal" fill="#4a4a4a" stroke="#4a4a4a" stroke-width="0.1" textLength="6.6" lengthAdjust="spacingAndGlyphs">2,500</text>
<line x1="244.0" y1="136.3" x2="245.1" y2="136.3" stroke="#5a5a5a" stroke-width="0.5"/>
<text x="243.6" y="137.3" font-size="3.2" text-anchor="end" font-weight="normal" fill="#4a4a4a" stroke="#4a4a4a" stroke-width="0.1" textLength="6.6" lengthAdjust="spacingAndGlyphs">2,000</text>
<line x1="244.0" y1="149.3" x2="245.1" y2="149.3" stroke="#5a5a5a" stroke-width="0.5"/>
<text x="243.6" y="150.3" font-size="3.2" text-anchor="end" font-weight="normal" fill="#4a4a4a" stroke="#4a4a4a" stroke-width="0.1" textLength="6.6" lengthAdjust="spacingAndGlyphs">1,500</text>
<line x1="244.0" y1="162.5" x2="245.1" y2="162.5" stroke="#5a5a5a" stroke-width="0.5"/>
<text x="243.6" y="163.5" font-size="3.2" text-anchor="end" font-weight="normal" fill="#4a4a4a" stroke="#4a4a4a" stroke-width="0.1" textLength="6.6" lengthAdjust="spacingAndGlyphs">1,000</text>
<line x1="244.0" y1="175.5" x2="245.1" y2="175.5" stroke="#5a5a5a" stroke-width="0.5"/>
<text x="243.6" y="176.5" font-size="3.2" text-anchor="end" font-weight="normal" fill="#4a4a4a" stroke="#4a4a4a" stroke-width="0.1" textLength="4.6" lengthAdjust="spacingAndGlyphs">500</text>
<line x1="244.0" y1="188.6" x2="245.1" y2="188.6" stroke="#5a5a5a" stroke-width="0.5"/>
<text x="243.6" y="189.6" font-size="3.2" text-anchor="end" font-weight="normal" fill="#4a4a4a" stroke="#4a4a4a" stroke-width="0.1" textLength="1.5" lengthAdjust="spacingAndGlyphs">0</text>
<text x="228.4" y="155" font-size="2.7" text-anchor="middle" font-weight="bold" fill="#3a3a3a" stroke="#3a3a3a" stroke-width="0.1" transform="rotate(-90 228.4 155)" textLength="42" lengthAdjust="spacingAndGlyphs">CD4+CD25+CD127-Foxp3+</text>
<text x="232.6" y="155.5" font-size="3.2" text-anchor="middle" font-weight="bold" fill="#3a3a3a" stroke="#3a3a3a" stroke-width="0.1" transform="rotate(-90 232.6 155.5)" textLength="7.5" lengthAdjust="spacingAndGlyphs">[cells]</text>
<line x1="245.3" y1="188.8" x2="316" y2="188.8" stroke="#5a5a5a" stroke-width="0.65"/>
<line x1="251.275" y1="170.3" x2="251.275" y2="182.5" stroke="#8a8a8a" stroke-width="0.75"/>
<line x1="250.175" y1="170.3" x2="252.375" y2="170.3" stroke="#6a6a6a" stroke-width="0.8"/>
<rect x="248.00" y="182.50" width="5.75" height="6.30" fill="#F2A22C"/>
<line x1="257.025" y1="161.3" x2="257.025" y2="179.3" stroke="#8a8a8a" stroke-width="0.75"/>
<line x1="255.92499999999998" y1="161.3" x2="258.125" y2="161.3" stroke="#6a6a6a" stroke-width="0.8"/>
<rect x="253.75" y="179.30" width="5.75" height="9.50" fill="#1E9A95"/>
<line x1="262.775" y1="151.2" x2="262.775" y2="172.3" stroke="#8a8a8a" stroke-width="0.75"/>
<line x1="261.67499999999995" y1="151.2" x2="263.875" y2="151.2" stroke="#6a6a6a" stroke-width="0.8"/>
<rect x="259.50" y="172.30" width="5.75" height="16.50" fill="#1B4F8C"/>
<line x1="256.625" y1="188.8" x2="256.625" y2="189.8" stroke="#5a5a5a" stroke-width="0.5"/>
<text x="257.125" y="192.70000000000002" font-size="2.3" text-anchor="end" font-weight="bold" fill="#5a5a5a" stroke="#5a5a5a" stroke-width="0.12" transform="rotate(-42 257.125 192.70000000000002)" textLength="7.6" lengthAdjust="spacingAndGlyphs">GDM1</text>
<line x1="274.875" y1="170.8" x2="274.875" y2="182.5" stroke="#8a8a8a" stroke-width="0.75"/>
<line x1="273.775" y1="170.8" x2="275.975" y2="170.8" stroke="#6a6a6a" stroke-width="0.8"/>
<rect x="271.60" y="182.50" width="5.75" height="6.30" fill="#F2A22C"/>
<line x1="280.625" y1="156.8" x2="280.625" y2="174.1" stroke="#8a8a8a" stroke-width="0.75"/>
<line x1="279.525" y1="156.8" x2="281.725" y2="156.8" stroke="#6a6a6a" stroke-width="0.8"/>
<rect x="277.35" y="174.10" width="5.75" height="14.70" fill="#1E9A95"/>
<line x1="286.375" y1="161.3" x2="286.375" y2="179" stroke="#8a8a8a" stroke-width="0.75"/>
<line x1="285.275" y1="161.3" x2="287.475" y2="161.3" stroke="#6a6a6a" stroke-width="0.8"/>
<rect x="283.10" y="179.00" width="5.75" height="9.80" fill="#1B4F8C"/>
<line x1="280.225" y1="188.8" x2="280.225" y2="189.8" stroke="#5a5a5a" stroke-width="0.5"/>
<text x="280.725" y="192.70000000000002" font-size="2.3" text-anchor="end" font-weight="bold" fill="#5a5a5a" stroke="#5a5a5a" stroke-width="0.12" transform="rotate(-42 280.725 192.70000000000002)" textLength="6.8" lengthAdjust="spacingAndGlyphs">GDM2</text>
<line x1="298.47499999999997" y1="170.8" x2="298.47499999999997" y2="182.5" stroke="#8a8a8a" stroke-width="0.75"/>
<line x1="297.37499999999994" y1="170.8" x2="299.575" y2="170.8" stroke="#6a6a6a" stroke-width="0.8"/>
<rect x="295.20" y="182.50" width="5.75" height="6.30" fill="#F2A22C"/>
<line x1="304.22499999999997" y1="160.6" x2="304.22499999999997" y2="176.8" stroke="#8a8a8a" stroke-width="0.75"/>
<line x1="303.12499999999994" y1="160.6" x2="305.325" y2="160.6" stroke="#6a6a6a" stroke-width="0.8"/>
<rect x="300.95" y="176.80" width="5.75" height="12.00" fill="#1E9A95"/>
<line x1="309.97499999999997" y1="156.6" x2="309.97499999999997" y2="175.9" stroke="#8a8a8a" stroke-width="0.75"/>
<line x1="308.87499999999994" y1="156.6" x2="311.075" y2="156.6" stroke="#6a6a6a" stroke-width="0.8"/>
<rect x="306.70" y="175.90" width="5.75" height="12.90" fill="#1B4F8C"/>
<line x1="303.825" y1="188.8" x2="303.825" y2="189.8" stroke="#5a5a5a" stroke-width="0.5"/>
<text x="304.325" y="192.70000000000002" font-size="2.3" text-anchor="end" font-weight="bold" fill="#5a5a5a" stroke="#5a5a5a" stroke-width="0.12" transform="rotate(-42 304.325 192.70000000000002)" textLength="5" lengthAdjust="spacingAndGlyphs">IGT</text>
<path d="M249 148.5 V147.4 H263.7 V148.5" fill="none" stroke="#6a6a6a" stroke-width="0.45"/>
<text x="256.35" y="145.4" font-size="2.2" text-anchor="middle" font-weight="normal" fill="#4a4a4a" stroke="#4a4a4a" stroke-width="0.14" textLength="6.7" lengthAdjust="spacingAndGlyphs">0.0xx</text>
<text x="6.4" y="214.9" font-size="7.2" text-anchor="start" font-weight="normal" fill="#333" stroke="#333" stroke-width="0.14" textLength="3.9" lengthAdjust="spacingAndGlyphs">C</text>
<line x1="40.7" y1="212.8" x2="40.7" y2="279.4" stroke="#5a5a5a" stroke-width="0.65"/>
<line x1="39.6" y1="213" x2="40.7" y2="213" stroke="#5a5a5a" stroke-width="0.5"/>
<text x="38.6" y="214.0" font-size="3.2" text-anchor="end" font-weight="normal" fill="#4a4a4a" stroke="#4a4a4a" stroke-width="0.1" textLength="9.2" lengthAdjust="spacingAndGlyphs">20,000</text>
<line x1="39.6" y1="229.5" x2="40.7" y2="229.5" stroke="#5a5a5a" stroke-width="0.5"/>
<text x="38.6" y="230.5" font-size="3.2" text-anchor="end" font-weight="normal" fill="#4a4a4a" stroke="#4a4a4a" stroke-width="0.1" textLength="9.2" lengthAdjust="spacingAndGlyphs">15,000</text>
<line x1="39.6" y1="246.3" x2="40.7" y2="246.3" stroke="#5a5a5a" stroke-width="0.5"/>
<text x="38.6" y="247.3" font-size="3.2" text-anchor="end" font-weight="normal" fill="#4a4a4a" stroke="#4a4a4a" stroke-width="0.1" textLength="9.2" lengthAdjust="spacingAndGlyphs">10,000</text>
<line x1="39.6" y1="262.6" x2="40.7" y2="262.6" stroke="#5a5a5a" stroke-width="0.5"/>
<text x="38.6" y="263.6" font-size="3.2" text-anchor="end" font-weight="normal" fill="#4a4a4a" stroke="#4a4a4a" stroke-width="0.1" textLength="7.5" lengthAdjust="spacingAndGlyphs">5,000</text>
<line x1="39.6" y1="279.3" x2="40.7" y2="279.3" stroke="#5a5a5a" stroke-width="0.5"/>
<text x="38.6" y="280.3" font-size="3.2" text-anchor="end" font-weight="normal" fill="#4a4a4a" stroke="#4a4a4a" stroke-width="0.1" textLength="1.5" lengthAdjust="spacingAndGlyphs">0</text>
<text x="18.75" y="244.8" font-size="2.7" text-anchor="middle" font-weight="bold" fill="#3a3a3a" stroke="#3a3a3a" stroke-width="0.1" transform="rotate(-90 18.75 244.8)" textLength="20.6" lengthAdjust="spacingAndGlyphs">CD4+IL-17A+</text>
<text x="24.4" y="244.8" font-size="3.2" text-anchor="middle" font-weight="bold" fill="#3a3a3a" stroke="#3a3a3a" stroke-width="0.1" transform="rotate(-90 24.4 244.8)" textLength="10.6" lengthAdjust="spacingAndGlyphs">[cells]</text>
<line x1="40.7" y1="279.4" x2="213.8" y2="279.4" stroke="#5a5a5a" stroke-width="0.65"/>
<line x1="44.949999999999996" y1="249.4" x2="44.949999999999996" y2="264.8" stroke="#8a8a8a" stroke-width="0.75"/>
<line x1="43.849999999999994" y1="249.4" x2="46.05" y2="249.4" stroke="#6a6a6a" stroke-width="0.8"/>
<rect x="42.40" y="264.80" width="4.30" height="14.60" fill="#F2A22C"/>
<line x1="49.24999999999999" y1="259.7" x2="49.24999999999999" y2="264.4" stroke="#8a8a8a" stroke-width="0.75"/>
<line x1="48.14999999999999" y1="259.7" x2="50.349999999999994" y2="259.7" stroke="#6a6a6a" stroke-width="0.8"/>
<rect x="46.70" y="264.40" width="4.30" height="15.00" fill="#1E9A95"/>
<line x1="53.55" y1="244.3" x2="53.55" y2="256.9" stroke="#8a8a8a" stroke-width="0.75"/>
<line x1="52.449999999999996" y1="244.3" x2="54.65" y2="244.3" stroke="#6a6a6a" stroke-width="0.8"/>
<rect x="51.00" y="256.90" width="4.30" height="22.50" fill="#1B4F8C"/>
<line x1="48.849999999999994" y1="279.4" x2="48.849999999999994" y2="280.4" stroke="#5a5a5a" stroke-width="0.5"/>
<text x="49.349999999999994" y="283.29999999999995" font-size="2.0" text-anchor="end" font-weight="bold" fill="#5a5a5a" stroke="#5a5a5a" stroke-width="0.12" transform="rotate(-42 49.349999999999994 283.29999999999995)" textLength="18.5" lengthAdjust="spacingAndGlyphs">Gestational diabetes</text>
<line x1="62.39" y1="249.4" x2="62.39" y2="264.8" stroke="#8a8a8a" stroke-width="0.75"/>
<line x1="61.29" y1="249.4" x2="63.49" y2="249.4" stroke="#6a6a6a" stroke-width="0.8"/>
<rect x="59.84" y="264.80" width="4.30" height="14.60" fill="#F2A22C"/>
<line x1="66.69000000000001" y1="251.3" x2="66.69000000000001" y2="260.6" stroke="#8a8a8a" stroke-width="0.75"/>
<line x1="65.59000000000002" y1="251.3" x2="67.79" y2="251.3" stroke="#6a6a6a" stroke-width="0.8"/>
<rect x="64.14" y="260.60" width="4.30" height="18.80" fill="#1E9A95"/>
<line x1="70.99000000000001" y1="250" x2="70.99000000000001" y2="259.7" stroke="#8a8a8a" stroke-width="0.75"/>
<line x1="69.89000000000001" y1="250" x2="72.09" y2="250" stroke="#6a6a6a" stroke-width="0.8"/>
<rect x="68.44" y="259.70" width="4.30" height="19.70" fill="#1B4F8C"/>
<line x1="66.29" y1="279.4" x2="66.29" y2="280.4" stroke="#5a5a5a" stroke-width="0.5"/>
<text x="66.79" y="283.29999999999995" font-size="2.0" text-anchor="end" font-weight="bold" fill="#5a5a5a" stroke="#5a5a5a" stroke-width="0.12" transform="rotate(-42 66.79 283.29999999999995)" textLength="12.5" lengthAdjust="spacingAndGlyphs">Dyslipidemia</text>
<line x1="79.83000000000001" y1="249.4" x2="79.83000000000001" y2="264.8" stroke="#8a8a8a" stroke-width="0.75"/>
<line x1="78.73000000000002" y1="249.4" x2="80.93" y2="249.4" stroke="#6a6a6a" stroke-width="0.8"/>
<rect x="77.28" y="264.80" width="4.30" height="14.60" fill="#F2A22C"/>
<line x1="84.13000000000001" y1="241" x2="84.13000000000001" y2="259.7" stroke="#8a8a8a" stroke-width="0.75"/>
<line x1="83.03000000000002" y1="241" x2="85.23" y2="241" stroke="#6a6a6a" stroke-width="0.8"/>
<rect x="81.58" y="259.70" width="4.30" height="19.70" fill="#1E9A95"/>
<line x1="88.43" y1="251.8" x2="88.43" y2="260" stroke="#8a8a8a" stroke-width="0.75"/>
<line x1="87.33000000000001" y1="251.8" x2="89.53" y2="251.8" stroke="#6a6a6a" stroke-width="0.8"/>
<rect x="85.88" y="260.00" width="4.30" height="19.40" fill="#1B4F8C"/>
<line x1="83.73" y1="279.4" x2="83.73" y2="280.4" stroke="#5a5a5a" stroke-width="0.5"/>
<text x="84.23" y="283.29999999999995" font-size="2.0" text-anchor="end" font-weight="bold" fill="#5a5a5a" stroke="#5a5a5a" stroke-width="0.12" transform="rotate(-42 84.23 283.29999999999995)" textLength="4.5" lengthAdjust="spacingAndGlyphs">BMI</text>
<line x1="97.27000000000001" y1="249" x2="97.27000000000001" y2="264.8" stroke="#8a8a8a" stroke-width="0.75"/>
<line x1="96.17000000000002" y1="249" x2="98.37" y2="249" stroke="#6a6a6a" stroke-width="0.8"/>
<rect x="94.72" y="264.80" width="4.30" height="14.60" fill="#F2A22C"/>
<line x1="101.57000000000001" y1="246" x2="101.57000000000001" y2="260" stroke="#8a8a8a" stroke-width="0.75"/>
<line x1="100.47000000000001" y1="246" x2="102.67" y2="246" stroke="#6a6a6a" stroke-width="0.8"/>
<rect x="99.02" y="260.00" width="4.30" height="19.40" fill="#1E9A95"/>
<line x1="105.87" y1="251.3" x2="105.87" y2="260" stroke="#8a8a8a" stroke-width="0.75"/>
<line x1="104.77000000000001" y1="251.3" x2="106.97" y2="251.3" stroke="#6a6a6a" stroke-width="0.8"/>
<rect x="103.32" y="260.00" width="4.30" height="19.40" fill="#1B4F8C"/>
<line x1="101.17" y1="279.4" x2="101.17" y2="280.4" stroke="#5a5a5a" stroke-width="0.5"/>
<text x="101.67" y="283.29999999999995" font-size="2.0" text-anchor="end" font-weight="bold" fill="#5a5a5a" stroke="#5a5a5a" stroke-width="0.12" transform="rotate(-42 101.67 283.29999999999995)" textLength="12" lengthAdjust="spacingAndGlyphs">HOMA-IR</text>
<line x1="114.71000000000001" y1="249" x2="114.71000000000001" y2="264.8" stroke="#8a8a8a" stroke-width="0.75"/>
<line x1="113.61000000000001" y1="249" x2="115.81" y2="249" stroke="#6a6a6a" stroke-width="0.8"/>
<rect x="112.16" y="264.80" width="4.30" height="14.60" fill="#F2A22C"/>
<line x1="119.01" y1="250.3" x2="119.01" y2="259.7" stroke="#8a8a8a" stroke-width="0.75"/>
<line x1="117.91000000000001" y1="250.3" x2="120.11" y2="250.3" stroke="#6a6a6a" stroke-width="0.8"/>
<rect x="116.46" y="259.70" width="4.30" height="19.70" fill="#1E9A95"/>
<line x1="123.31" y1="243.2" x2="123.31" y2="262.5" stroke="#8a8a8a" stroke-width="0.75"/>
<line x1="122.21000000000001" y1="243.2" x2="124.41" y2="243.2" stroke="#6a6a6a" stroke-width="0.8"/>
<rect x="120.76" y="262.50" width="4.30" height="16.90" fill="#1B4F8C"/>
<line x1="118.61" y1="279.4" x2="118.61" y2="280.4" stroke="#5a5a5a" stroke-width="0.5"/>
<text x="119.11" y="283.29999999999995" font-size="2.0" text-anchor="end" font-weight="bold" fill="#5a5a5a" stroke="#5a5a5a" stroke-width="0.12" transform="rotate(-42 119.11 283.29999999999995)" textLength="7.5" lengthAdjust="spacingAndGlyphs">Insulin</text>
<line x1="132.15" y1="249" x2="132.15" y2="264.8" stroke="#8a8a8a" stroke-width="0.75"/>
<line x1="131.05" y1="249" x2="133.25" y2="249" stroke="#6a6a6a" stroke-width="0.8"/>
<rect x="129.60" y="264.80" width="4.30" height="14.60" fill="#F2A22C"/>
<line x1="136.45000000000002" y1="245.6" x2="136.45000000000002" y2="260" stroke="#8a8a8a" stroke-width="0.75"/>
<line x1="135.35000000000002" y1="245.6" x2="137.55" y2="245.6" stroke="#6a6a6a" stroke-width="0.8"/>
<rect x="133.90" y="260.00" width="4.30" height="19.40" fill="#1E9A95"/>
<line x1="140.75" y1="249.75" x2="140.75" y2="259.1" stroke="#8a8a8a" stroke-width="0.75"/>
<line x1="139.65" y1="249.75" x2="141.85" y2="249.75" stroke="#6a6a6a" stroke-width="0.8"/>
<rect x="138.20" y="259.10" width="4.30" height="20.30" fill="#1B4F8C"/>
<line x1="136.04999999999998" y1="279.4" x2="136.04999999999998" y2="280.4" stroke="#5a5a5a" stroke-width="0.5"/>
<text x="136.54999999999998" y="283.29999999999995" font-size="2.0" text-anchor="end" font-weight="bold" fill="#5a5a5a" stroke="#5a5a5a" stroke-width="0.12" transform="rotate(-42 136.54999999999998 283.29999999999995)" textLength="14.5" lengthAdjust="spacingAndGlyphs">HbA1c at onset</text>
<line x1="149.59000000000003" y1="249.1" x2="149.59000000000003" y2="265" stroke="#8a8a8a" stroke-width="0.75"/>
<line x1="148.49000000000004" y1="249.1" x2="150.69000000000003" y2="249.1" stroke="#6a6a6a" stroke-width="0.8"/>
<rect x="147.04" y="265.00" width="4.30" height="14.40" fill="#F2A22C"/>
<line x1="153.89000000000004" y1="254.9" x2="153.89000000000004" y2="261.3" stroke="#8a8a8a" stroke-width="0.75"/>
<line x1="152.79000000000005" y1="254.9" x2="154.99000000000004" y2="254.9" stroke="#6a6a6a" stroke-width="0.8"/>
<rect x="151.34" y="261.30" width="4.30" height="18.10" fill="#1E9A95"/>
<line x1="158.19000000000003" y1="250.2" x2="158.19000000000003" y2="259.2" stroke="#8a8a8a" stroke-width="0.75"/>
<line x1="157.09000000000003" y1="250.2" x2="159.29000000000002" y2="250.2" stroke="#6a6a6a" stroke-width="0.8"/>
<rect x="155.64" y="259.20" width="4.30" height="20.20" fill="#1B4F8C"/>
<line x1="153.49" y1="279.4" x2="153.49" y2="280.4" stroke="#5a5a5a" stroke-width="0.5"/>
<text x="153.99" y="283.29999999999995" font-size="2.0" text-anchor="end" font-weight="bold" fill="#5a5a5a" stroke="#5a5a5a" stroke-width="0.12" transform="rotate(-42 153.99 283.29999999999995)" textLength="14.8" lengthAdjust="spacingAndGlyphs">C-peptide 1st</text>
<line x1="167.03000000000003" y1="249" x2="167.03000000000003" y2="265" stroke="#8a8a8a" stroke-width="0.75"/>
<line x1="165.93000000000004" y1="249" x2="168.13000000000002" y2="249" stroke="#6a6a6a" stroke-width="0.8"/>
<rect x="164.48" y="265.00" width="4.30" height="14.40" fill="#F2A22C"/>
<line x1="171.33000000000004" y1="256.6" x2="171.33000000000004" y2="261.3" stroke="#8a8a8a" stroke-width="0.75"/>
<line x1="170.23000000000005" y1="256.6" x2="172.43000000000004" y2="256.6" stroke="#6a6a6a" stroke-width="0.8"/>
<rect x="168.78" y="261.30" width="4.30" height="18.10" fill="#1E9A95"/>
<line x1="175.63000000000002" y1="239.5" x2="175.63000000000002" y2="257.7" stroke="#8a8a8a" stroke-width="0.75"/>
<line x1="174.53000000000003" y1="239.5" x2="176.73000000000002" y2="239.5" stroke="#6a6a6a" stroke-width="0.8"/>
<rect x="173.08" y="257.70" width="4.30" height="21.70" fill="#1B4F8C"/>
<line x1="170.93" y1="279.4" x2="170.93" y2="280.4" stroke="#5a5a5a" stroke-width="0.5"/>
<text x="171.43" y="283.29999999999995" font-size="2.0" text-anchor="end" font-weight="bold" fill="#5a5a5a" stroke="#5a5a5a" stroke-width="0.12" transform="rotate(-42 171.43 283.29999999999995)" textLength="14.3" lengthAdjust="spacingAndGlyphs">C-peptide 2nd</text>
<line x1="184.47000000000003" y1="249" x2="184.47000000000003" y2="265" stroke="#8a8a8a" stroke-width="0.75"/>
<line x1="183.37000000000003" y1="249" x2="185.57000000000002" y2="249" stroke="#6a6a6a" stroke-width="0.8"/>
<rect x="181.92" y="265.00" width="4.30" height="14.40" fill="#F2A22C"/>
<line x1="188.77000000000004" y1="259.8" x2="188.77000000000004" y2="265" stroke="#8a8a8a" stroke-width="0.75"/>
<line x1="187.67000000000004" y1="259.8" x2="189.87000000000003" y2="259.8" stroke="#6a6a6a" stroke-width="0.8"/>
<rect x="186.22" y="265.00" width="4.30" height="14.40" fill="#1E9A95"/>
<line x1="193.07000000000002" y1="241" x2="193.07000000000002" y2="251" stroke="#8a8a8a" stroke-width="0.75"/>
<line x1="191.97000000000003" y1="241" x2="194.17000000000002" y2="241" stroke="#6a6a6a" stroke-width="0.8"/>
<rect x="190.52" y="251.00" width="4.30" height="28.40" fill="#1B4F8C"/>
<line x1="188.37" y1="279.4" x2="188.37" y2="280.4" stroke="#5a5a5a" stroke-width="0.5"/>
<text x="188.87" y="283.29999999999995" font-size="2.0" text-anchor="end" font-weight="bold" fill="#5a5a5a" stroke="#5a5a5a" stroke-width="0.12" transform="rotate(-42 188.87 283.29999999999995)" textLength="21" lengthAdjust="spacingAndGlyphs">Maternal complications</text>
<line x1="201.91000000000003" y1="249" x2="201.91000000000003" y2="265" stroke="#8a8a8a" stroke-width="0.75"/>
<line x1="200.81000000000003" y1="249" x2="203.01000000000002" y2="249" stroke="#6a6a6a" stroke-width="0.8"/>
<rect x="199.36" y="265.00" width="4.30" height="14.40" fill="#F2A22C"/>
<line x1="206.21000000000004" y1="250.2" x2="206.21000000000004" y2="258.1" stroke="#8a8a8a" stroke-width="0.75"/>
<line x1="205.11000000000004" y1="250.2" x2="207.31000000000003" y2="250.2" stroke="#6a6a6a" stroke-width="0.8"/>
<rect x="203.66" y="258.10" width="4.30" height="21.30" fill="#1E9A95"/>
<line x1="210.51000000000002" y1="254.9" x2="210.51000000000002" y2="264.5" stroke="#8a8a8a" stroke-width="0.75"/>
<line x1="209.41000000000003" y1="254.9" x2="211.61" y2="254.9" stroke="#6a6a6a" stroke-width="0.8"/>
<rect x="207.96" y="264.50" width="4.30" height="14.90" fill="#1B4F8C"/>
<line x1="205.81" y1="279.4" x2="205.81" y2="280.4" stroke="#5a5a5a" stroke-width="0.5"/>
<text x="206.31" y="283.29999999999995" font-size="2.0" text-anchor="end" font-weight="bold" fill="#5a5a5a" stroke="#5a5a5a" stroke-width="0.12" transform="rotate(-42 206.31 283.29999999999995)" textLength="9.5" lengthAdjust="spacingAndGlyphs">Obesity</text>
<path d="M42.3 238.0 V236.9 H55.5 V238.0" fill="none" stroke="#6a6a6a" stroke-width="0.45"/>
<text x="48.9" y="236.0" font-size="2.2" text-anchor="middle" font-weight="normal" fill="#4a4a4a" stroke="#4a4a4a" stroke-width="0.14" textLength="6.8" lengthAdjust="spacingAndGlyphs">0.0xx</text>
<path d="M47.3 242.6 V241.5 H55.1 V242.6" fill="none" stroke="#6a6a6a" stroke-width="0.45"/>
<path d="M51.20 238.75 L51.20 240.05 M50.64 239.08 L51.76 239.72 M51.76 239.08 L50.64 239.72 " stroke="#111" stroke-width="0.4" fill="none"/>
<path d="M182.3 234.29999999999998 V233.2 H193.4 V234.29999999999998" fill="none" stroke="#6a6a6a" stroke-width="0.45"/>
<path d="M188.50 230.05 L188.50 231.35 M187.94 230.38 L189.06 231.02 M189.06 230.38 L187.94 231.02 " stroke="#111" stroke-width="0.4" fill="none"/>
<path d="M186.2 238.6 V237.5 H193.4 V238.6" fill="none" stroke="#6a6a6a" stroke-width="0.45"/>
<text x="189.8" y="236.4" font-size="2.6" text-anchor="middle" font-weight="normal" fill="#4a4a4a" stroke="#4a4a4a" stroke-width="0.14" textLength="2.4" lengthAdjust="spacingAndGlyphs">**</text>
<path d="M198.3 247.79999999999998 V246.7 H212.8 V247.79999999999998" fill="none" stroke="#6a6a6a" stroke-width="0.45"/>
<text x="205.55" y="244.6" font-size="2.2" text-anchor="middle" font-weight="normal" fill="#4a4a4a" stroke="#4a4a4a" stroke-width="0.14" textLength="13" lengthAdjust="spacingAndGlyphs">0.007 0.046</text>
<line x1="245.1" y1="215.2" x2="245.1" y2="280" stroke="#5a5a5a" stroke-width="0.65"/>
<line x1="244.0" y1="215.4" x2="245.1" y2="215.4" stroke="#5a5a5a" stroke-width="0.5"/>
<text x="243.9" y="216.4" font-size="3.2" text-anchor="end" font-weight="normal" fill="#4a4a4a" stroke="#4a4a4a" stroke-width="0.1" textLength="9.0" lengthAdjust="spacingAndGlyphs">20,000</text>
<line x1="244.0" y1="231.4" x2="245.1" y2="231.4" stroke="#5a5a5a" stroke-width="0.5"/>
<text x="243.9" y="232.4" font-size="3.2" text-anchor="end" font-weight="normal" fill="#4a4a4a" stroke="#4a4a4a" stroke-width="0.1" textLength="9.0" lengthAdjust="spacingAndGlyphs">15,000</text>
<line x1="244.0" y1="247.6" x2="245.1" y2="247.6" stroke="#5a5a5a" stroke-width="0.5"/>
<text x="243.9" y="248.6" font-size="3.2" text-anchor="end" font-weight="normal" fill="#4a4a4a" stroke="#4a4a4a" stroke-width="0.1" textLength="9.0" lengthAdjust="spacingAndGlyphs">10,000</text>
<line x1="244.0" y1="263.8" x2="245.1" y2="263.8" stroke="#5a5a5a" stroke-width="0.5"/>
<text x="243.9" y="264.8" font-size="3.2" text-anchor="end" font-weight="normal" fill="#4a4a4a" stroke="#4a4a4a" stroke-width="0.1" textLength="7.3" lengthAdjust="spacingAndGlyphs">5,000</text>
<line x1="244.0" y1="280" x2="245.1" y2="280" stroke="#5a5a5a" stroke-width="0.5"/>
<text x="243.9" y="281.0" font-size="3.2" text-anchor="end" font-weight="normal" fill="#4a4a4a" stroke="#4a4a4a" stroke-width="0.1" textLength="1.5" lengthAdjust="spacingAndGlyphs">0</text>
<text x="228.1" y="246.25" font-size="2.7" text-anchor="middle" font-weight="bold" fill="#3a3a3a" stroke="#3a3a3a" stroke-width="0.1" transform="rotate(-90 228.1 246.25)" textLength="20" lengthAdjust="spacingAndGlyphs">CD4+IL-17A+</text>
<text x="232.0" y="246.6" font-size="3.2" text-anchor="middle" font-weight="bold" fill="#3a3a3a" stroke="#3a3a3a" stroke-width="0.1" transform="rotate(-90 232.0 246.6)" textLength="9.4" lengthAdjust="spacingAndGlyphs">[cells]</text>
<line x1="245.5" y1="280" x2="314.7" y2="280" stroke="#5a5a5a" stroke-width="0.65"/>
<line x1="251.60000000000002" y1="250.6" x2="251.60000000000002" y2="265.7" stroke="#8a8a8a" stroke-width="0.75"/>
<line x1="250.50000000000003" y1="250.6" x2="252.70000000000002" y2="250.6" stroke="#6a6a6a" stroke-width="0.8"/>
<rect x="248.40" y="265.70" width="5.60" height="14.30" fill="#F2A22C"/>
<line x1="257.2" y1="252.9" x2="257.2" y2="261" stroke="#8a8a8a" stroke-width="0.75"/>
<line x1="256.09999999999997" y1="252.9" x2="258.3" y2="252.9" stroke="#6a6a6a" stroke-width="0.8"/>
<rect x="254.00" y="261.00" width="5.60" height="19.00" fill="#1E9A95"/>
<line x1="262.8" y1="247.7" x2="262.8" y2="262" stroke="#8a8a8a" stroke-width="0.75"/>
<line x1="261.7" y1="247.7" x2="263.90000000000003" y2="247.7" stroke="#6a6a6a" stroke-width="0.8"/>
<rect x="259.60" y="262.00" width="5.60" height="18.00" fill="#1B4F8C"/>
<line x1="256.8" y1="280" x2="256.8" y2="281" stroke="#5a5a5a" stroke-width="0.5"/>
<text x="257.3" y="283.9" font-size="2.3" text-anchor="end" font-weight="bold" fill="#5a5a5a" stroke="#5a5a5a" stroke-width="0.12" transform="rotate(-42 257.3 283.9)" textLength="7.6" lengthAdjust="spacingAndGlyphs">GDM1</text>
<line x1="274.5" y1="250.6" x2="274.5" y2="265.7" stroke="#8a8a8a" stroke-width="0.75"/>
<line x1="273.4" y1="250.6" x2="275.6" y2="250.6" stroke="#6a6a6a" stroke-width="0.8"/>
<rect x="271.30" y="265.70" width="5.60" height="14.30" fill="#F2A22C"/>
<line x1="280.1" y1="252.6" x2="280.1" y2="261.4" stroke="#8a8a8a" stroke-width="0.75"/>
<line x1="279.0" y1="252.6" x2="281.20000000000005" y2="252.6" stroke="#6a6a6a" stroke-width="0.8"/>
<rect x="276.90" y="261.40" width="5.60" height="18.60" fill="#1E9A95"/>
<line x1="285.7" y1="241.2" x2="285.7" y2="261.4" stroke="#8a8a8a" stroke-width="0.75"/>
<line x1="284.59999999999997" y1="241.2" x2="286.8" y2="241.2" stroke="#6a6a6a" stroke-width="0.8"/>
<rect x="282.50" y="261.40" width="5.60" height="18.60" fill="#1B4F8C"/>
<line x1="279.7" y1="280" x2="279.7" y2="281" stroke="#5a5a5a" stroke-width="0.5"/>
<text x="280.2" y="283.9" font-size="2.3" text-anchor="end" font-weight="bold" fill="#5a5a5a" stroke="#5a5a5a" stroke-width="0.12" transform="rotate(-42 280.2 283.9)" textLength="6.8" lengthAdjust="spacingAndGlyphs">GDM2</text>
<line x1="297.4" y1="250.6" x2="297.4" y2="265.7" stroke="#8a8a8a" stroke-width="0.75"/>
<line x1="296.29999999999995" y1="250.6" x2="298.5" y2="250.6" stroke="#6a6a6a" stroke-width="0.8"/>
<rect x="294.20" y="265.70" width="5.60" height="14.30" fill="#F2A22C"/>
<line x1="303.0" y1="253.4" x2="303.0" y2="262.5" stroke="#8a8a8a" stroke-width="0.75"/>
<line x1="301.9" y1="253.4" x2="304.1" y2="253.4" stroke="#6a6a6a" stroke-width="0.8"/>
<rect x="299.80" y="262.50" width="5.60" height="17.50" fill="#1E9A95"/>
<line x1="308.59999999999997" y1="251" x2="308.59999999999997" y2="261.4" stroke="#8a8a8a" stroke-width="0.75"/>
<line x1="307.49999999999994" y1="251" x2="309.7" y2="251" stroke="#6a6a6a" stroke-width="0.8"/>
<rect x="305.40" y="261.40" width="5.60" height="18.60" fill="#1B4F8C"/>
<line x1="302.59999999999997" y1="280" x2="302.59999999999997" y2="281" stroke="#5a5a5a" stroke-width="0.5"/>
<text x="303.09999999999997" y="283.9" font-size="2.3" text-anchor="end" font-weight="bold" fill="#5a5a5a" stroke="#5a5a5a" stroke-width="0.12" transform="rotate(-42 303.09999999999997 283.9)" textLength="5" lengthAdjust="spacingAndGlyphs">IGT</text>
<text x="6.5" y="307.9" font-size="6.2" text-anchor="start" font-weight="normal" fill="#333" stroke="#333" stroke-width="0.14" textLength="4.4" lengthAdjust="spacingAndGlyphs">D</text>
<line x1="41.0" y1="310" x2="41.0" y2="375.2" stroke="#5a5a5a" stroke-width="0.65"/>
<line x1="39.9" y1="310.2" x2="41.0" y2="310.2" stroke="#5a5a5a" stroke-width="0.5"/>
<text x="38.75" y="311.2" font-size="3.2" text-anchor="end" font-weight="normal" fill="#4a4a4a" stroke="#4a4a4a" stroke-width="0.1" textLength="3.4" lengthAdjust="spacingAndGlyphs">0.8</text>
<line x1="39.9" y1="326.5" x2="41.0" y2="326.5" stroke="#5a5a5a" stroke-width="0.5"/>
<text x="38.75" y="327.5" font-size="3.2" text-anchor="end" font-weight="normal" fill="#4a4a4a" stroke="#4a4a4a" stroke-width="0.1" textLength="3.4" lengthAdjust="spacingAndGlyphs">0.6</text>
<line x1="39.9" y1="342.7" x2="41.0" y2="342.7" stroke="#5a5a5a" stroke-width="0.5"/>
<text x="38.75" y="343.7" font-size="3.2" text-anchor="end" font-weight="normal" fill="#4a4a4a" stroke="#4a4a4a" stroke-width="0.1" textLength="3.4" lengthAdjust="spacingAndGlyphs">0.4</text>
<line x1="39.9" y1="359" x2="41.0" y2="359" stroke="#5a5a5a" stroke-width="0.5"/>
<text x="38.75" y="360.0" font-size="3.2" text-anchor="end" font-weight="normal" fill="#4a4a4a" stroke="#4a4a4a" stroke-width="0.1" textLength="3.4" lengthAdjust="spacingAndGlyphs">0.2</text>
<line x1="39.9" y1="375.2" x2="41.0" y2="375.2" stroke="#5a5a5a" stroke-width="0.5"/>
<text x="38.75" y="376.2" font-size="3.2" text-anchor="end" font-weight="normal" fill="#4a4a4a" stroke="#4a4a4a" stroke-width="0.1" textLength="1.5" lengthAdjust="spacingAndGlyphs">0</text>
<text x="26.9" y="343.1" font-size="2.7" text-anchor="middle" font-weight="bold" fill="#3a3a3a" stroke="#3a3a3a" stroke-width="0.1" transform="rotate(-90 26.9 343.1)" textLength="25" lengthAdjust="spacingAndGlyphs">Ratio Tregs/Th17</text>
<text x="31.9" y="342.2" font-size="3.2" text-anchor="middle" font-weight="bold" fill="#3a3a3a" stroke="#3a3a3a" stroke-width="0.1" transform="rotate(-90 31.9 342.2)" textLength="9.4" lengthAdjust="spacingAndGlyphs">[cells]</text>
<line x1="41.0" y1="375.3" x2="214.8" y2="375.3" stroke="#5a5a5a" stroke-width="0.65"/>
<line x1="45.349999999999994" y1="362.2" x2="45.349999999999994" y2="369.9" stroke="#8a8a8a" stroke-width="0.75"/>
<line x1="44.24999999999999" y1="362.2" x2="46.449999999999996" y2="362.2" stroke="#6a6a6a" stroke-width="0.8"/>
<rect x="42.80" y="369.90" width="4.30" height="5.40" fill="#F2A22C"/>
<line x1="49.64999999999999" y1="348" x2="49.64999999999999" y2="366" stroke="#8a8a8a" stroke-width="0.75"/>
<line x1="48.54999999999999" y1="348" x2="50.74999999999999" y2="348" stroke="#6a6a6a" stroke-width="0.8"/>
<rect x="47.10" y="366.00" width="4.30" height="9.30" fill="#1E9A95"/>
<line x1="53.949999999999996" y1="334" x2="53.949999999999996" y2="362.9" stroke="#8a8a8a" stroke-width="0.75"/>
<line x1="52.849999999999994" y1="334" x2="55.05" y2="334" stroke="#6a6a6a" stroke-width="0.8"/>
<rect x="51.40" y="362.90" width="4.30" height="12.40" fill="#1B4F8C"/>
<line x1="49.25" y1="375.3" x2="49.25" y2="376.3" stroke="#5a5a5a" stroke-width="0.5"/>
<text x="49.75" y="379.2" font-size="2.0" text-anchor="end" font-weight="bold" fill="#5a5a5a" stroke="#5a5a5a" stroke-width="0.12" transform="rotate(-42 49.75 379.2)" textLength="18.5" lengthAdjust="spacingAndGlyphs">Gestational diabetes</text>
<line x1="62.78999999999999" y1="362.2" x2="62.78999999999999" y2="369.9" stroke="#8a8a8a" stroke-width="0.75"/>
<line x1="61.68999999999999" y1="362.2" x2="63.88999999999999" y2="362.2" stroke="#6a6a6a" stroke-width="0.8"/>
<rect x="60.24" y="369.90" width="4.30" height="5.40" fill="#F2A22C"/>
<line x1="67.09" y1="331" x2="67.09" y2="362.9" stroke="#8a8a8a" stroke-width="0.75"/>
<line x1="65.99000000000001" y1="331" x2="68.19" y2="331" stroke="#6a6a6a" stroke-width="0.8"/>
<rect x="64.54" y="362.90" width="4.30" height="12.40" fill="#1E9A95"/>
<line x1="71.39" y1="348" x2="71.39" y2="364.4" stroke="#8a8a8a" stroke-width="0.75"/>
<line x1="70.29" y1="348" x2="72.49" y2="348" stroke="#6a6a6a" stroke-width="0.8"/>
<rect x="68.84" y="364.40" width="4.30" height="10.90" fill="#1B4F8C"/>
<line x1="66.69" y1="375.3" x2="66.69" y2="376.3" stroke="#5a5a5a" stroke-width="0.5"/>
<text x="67.19" y="379.2" font-size="2.0" text-anchor="end" font-weight="bold" fill="#5a5a5a" stroke="#5a5a5a" stroke-width="0.12" transform="rotate(-42 67.19 379.2)" textLength="12.5" lengthAdjust="spacingAndGlyphs">Dyslipidemia</text>
<line x1="80.23000000000002" y1="362.2" x2="80.23000000000002" y2="369.9" stroke="#8a8a8a" stroke-width="0.75"/>
<line x1="79.13000000000002" y1="362.2" x2="81.33000000000001" y2="362.2" stroke="#6a6a6a" stroke-width="0.8"/>
<rect x="77.68" y="369.90" width="4.30" height="5.40" fill="#F2A22C"/>
<line x1="84.53000000000002" y1="345.9" x2="84.53000000000002" y2="360.7" stroke="#8a8a8a" stroke-width="0.75"/>
<line x1="83.43000000000002" y1="345.9" x2="85.63000000000001" y2="345.9" stroke="#6a6a6a" stroke-width="0.8"/>
<rect x="81.98" y="360.70" width="4.30" height="14.60" fill="#1E9A95"/>
<line x1="88.83000000000001" y1="329.5" x2="88.83000000000001" y2="363.5" stroke="#8a8a8a" stroke-width="0.75"/>
<line x1="87.73000000000002" y1="329.5" x2="89.93" y2="329.5" stroke="#6a6a6a" stroke-width="0.8"/>
<rect x="86.28" y="363.50" width="4.30" height="11.80" fill="#1B4F8C"/>
<line x1="84.13000000000001" y1="375.3" x2="84.13000000000001" y2="376.3" stroke="#5a5a5a" stroke-width="0.5"/>
<text x="84.63000000000001" y="379.2" font-size="2.0" text-anchor="end" font-weight="bold" fill="#5a5a5a" stroke="#5a5a5a" stroke-width="0.12" transform="rotate(-42 84.63000000000001 379.2)" textLength="4.5" lengthAdjust="spacingAndGlyphs">BMI</text>
<line x1="97.67000000000002" y1="362" x2="97.67000000000002" y2="369.6" stroke="#8a8a8a" stroke-width="0.75"/>
<line x1="96.57000000000002" y1="362" x2="98.77000000000001" y2="362" stroke="#6a6a6a" stroke-width="0.8"/>
<rect x="95.12" y="369.60" width="4.30" height="5.70" fill="#F2A22C"/>
<line x1="101.97000000000001" y1="345.9" x2="101.97000000000001" y2="365.6" stroke="#8a8a8a" stroke-width="0.75"/>
<line x1="100.87000000000002" y1="345.9" x2="103.07000000000001" y2="345.9" stroke="#6a6a6a" stroke-width="0.8"/>
<rect x="99.42" y="365.60" width="4.30" height="9.70" fill="#1E9A95"/>
<line x1="106.27000000000001" y1="322.8" x2="106.27000000000001" y2="360.1" stroke="#8a8a8a" stroke-width="0.75"/>
<line x1="105.17000000000002" y1="322.8" x2="107.37" y2="322.8" stroke="#6a6a6a" stroke-width="0.8"/>
<rect x="103.72" y="360.10" width="4.30" height="15.20" fill="#1B4F8C"/>
<line x1="101.57000000000001" y1="375.3" x2="101.57000000000001" y2="376.3" stroke="#5a5a5a" stroke-width="0.5"/>
<text x="102.07000000000001" y="379.2" font-size="2.0" text-anchor="end" font-weight="bold" fill="#5a5a5a" stroke="#5a5a5a" stroke-width="0.12" transform="rotate(-42 102.07000000000001 379.2)" textLength="12" lengthAdjust="spacingAndGlyphs">HOMA-IR</text>
<line x1="115.11000000000001" y1="362" x2="115.11000000000001" y2="369.6" stroke="#8a8a8a" stroke-width="0.75"/>
<line x1="114.01000000000002" y1="362" x2="116.21000000000001" y2="362" stroke="#6a6a6a" stroke-width="0.8"/>
<rect x="112.56" y="369.60" width="4.30" height="5.70" fill="#F2A22C"/>
<line x1="119.41000000000001" y1="335.9" x2="119.41000000000001" y2="361.3" stroke="#8a8a8a" stroke-width="0.75"/>
<line x1="118.31000000000002" y1="335.9" x2="120.51" y2="335.9" stroke="#6a6a6a" stroke-width="0.8"/>
<rect x="116.86" y="361.30" width="4.30" height="14.00" fill="#1E9A95"/>
<line x1="123.71000000000001" y1="347.3" x2="123.71000000000001" y2="370.3" stroke="#8a8a8a" stroke-width="0.75"/>
<line x1="122.61000000000001" y1="347.3" x2="124.81" y2="347.3" stroke="#6a6a6a" stroke-width="0.8"/>
<rect x="121.16" y="370.30" width="4.30" height="5.00" fill="#1B4F8C"/>
<line x1="119.01" y1="375.3" x2="119.01" y2="376.3" stroke="#5a5a5a" stroke-width="0.5"/>
<text x="119.51" y="379.2" font-size="2.0" text-anchor="end" font-weight="bold" fill="#5a5a5a" stroke="#5a5a5a" stroke-width="0.12" transform="rotate(-42 119.51 379.2)" textLength="7.5" lengthAdjust="spacingAndGlyphs">Insulin</text>
<line x1="132.55" y1="362" x2="132.55" y2="369.6" stroke="#8a8a8a" stroke-width="0.75"/>
<line x1="131.45000000000002" y1="362" x2="133.65" y2="362" stroke="#6a6a6a" stroke-width="0.8"/>
<rect x="130.00" y="369.60" width="4.30" height="5.70" fill="#F2A22C"/>
<line x1="136.85000000000002" y1="342.5" x2="136.85000000000002" y2="364.9" stroke="#8a8a8a" stroke-width="0.75"/>
<line x1="135.75000000000003" y1="342.5" x2="137.95000000000002" y2="342.5" stroke="#6a6a6a" stroke-width="0.8"/>
<rect x="134.30" y="364.90" width="4.30" height="10.40" fill="#1E9A95"/>
<line x1="141.15" y1="343" x2="141.15" y2="359.2" stroke="#8a8a8a" stroke-width="0.75"/>
<line x1="140.05" y1="343" x2="142.25" y2="343" stroke="#6a6a6a" stroke-width="0.8"/>
<rect x="138.60" y="359.20" width="4.30" height="16.10" fill="#1B4F8C"/>
<line x1="136.45" y1="375.3" x2="136.45" y2="376.3" stroke="#5a5a5a" stroke-width="0.5"/>
<text x="136.95" y="379.2" font-size="2.0" text-anchor="end" font-weight="bold" fill="#5a5a5a" stroke="#5a5a5a" stroke-width="0.12" transform="rotate(-42 136.95 379.2)" textLength="14.5" lengthAdjust="spacingAndGlyphs">HbA1c at onset</text>
<line x1="149.99" y1="362.3" x2="149.99" y2="369.1" stroke="#8a8a8a" stroke-width="0.75"/>
<line x1="148.89000000000001" y1="362.3" x2="151.09" y2="362.3" stroke="#6a6a6a" stroke-width="0.8"/>
<rect x="147.44" y="369.10" width="4.30" height="6.20" fill="#F2A22C"/>
<line x1="154.29000000000002" y1="347.7" x2="154.29000000000002" y2="365.9" stroke="#8a8a8a" stroke-width="0.75"/>
<line x1="153.19000000000003" y1="347.7" x2="155.39000000000001" y2="347.7" stroke="#6a6a6a" stroke-width="0.8"/>
<rect x="151.74" y="365.90" width="4.30" height="9.40" fill="#1E9A95"/>
<line x1="158.59" y1="341.3" x2="158.59" y2="362.7" stroke="#8a8a8a" stroke-width="0.75"/>
<line x1="157.49" y1="341.3" x2="159.69" y2="341.3" stroke="#6a6a6a" stroke-width="0.8"/>
<rect x="156.04" y="362.70" width="4.30" height="12.60" fill="#1B4F8C"/>
<line x1="153.89" y1="375.3" x2="153.89" y2="376.3" stroke="#5a5a5a" stroke-width="0.5"/>
<text x="154.39" y="379.2" font-size="2.0" text-anchor="end" font-weight="bold" fill="#5a5a5a" stroke="#5a5a5a" stroke-width="0.12" transform="rotate(-42 154.39 379.2)" textLength="14.8" lengthAdjust="spacingAndGlyphs">C-peptide 1st</text>
<line x1="167.43" y1="362.3" x2="167.43" y2="369.1" stroke="#8a8a8a" stroke-width="0.75"/>
<line x1="166.33" y1="362.3" x2="168.53" y2="362.3" stroke="#6a6a6a" stroke-width="0.8"/>
<rect x="164.88" y="369.10" width="4.30" height="6.20" fill="#F2A22C"/>
<line x1="171.73000000000002" y1="347.7" x2="171.73000000000002" y2="362.7" stroke="#8a8a8a" stroke-width="0.75"/>
<line x1="170.63000000000002" y1="347.7" x2="172.83" y2="347.7" stroke="#6a6a6a" stroke-width="0.8"/>
<rect x="169.18" y="362.70" width="4.30" height="12.60" fill="#1E9A95"/>
<line x1="176.03" y1="331" x2="176.03" y2="363.8" stroke="#8a8a8a" stroke-width="0.75"/>
<line x1="174.93" y1="331" x2="177.13" y2="331" stroke="#6a6a6a" stroke-width="0.8"/>
<rect x="173.48" y="363.80" width="4.30" height="11.50" fill="#1B4F8C"/>
<line x1="171.32999999999998" y1="375.3" x2="171.32999999999998" y2="376.3" stroke="#5a5a5a" stroke-width="0.5"/>
<text x="171.82999999999998" y="379.2" font-size="2.0" text-anchor="end" font-weight="bold" fill="#5a5a5a" stroke="#5a5a5a" stroke-width="0.12" transform="rotate(-42 171.82999999999998 379.2)" textLength="14.3" lengthAdjust="spacingAndGlyphs">C-peptide 2nd</text>
<line x1="184.87" y1="362.3" x2="184.87" y2="369.1" stroke="#8a8a8a" stroke-width="0.75"/>
<line x1="183.77" y1="362.3" x2="185.97" y2="362.3" stroke="#6a6a6a" stroke-width="0.8"/>
<rect x="182.32" y="369.10" width="4.30" height="6.20" fill="#F2A22C"/>
<line x1="189.17000000000002" y1="346" x2="189.17000000000002" y2="368" stroke="#8a8a8a" stroke-width="0.75"/>
<line x1="188.07000000000002" y1="346" x2="190.27" y2="346" stroke="#6a6a6a" stroke-width="0.8"/>
<rect x="186.62" y="368.00" width="4.30" height="7.30" fill="#1E9A95"/>
<line x1="193.47" y1="346" x2="193.47" y2="368" stroke="#8a8a8a" stroke-width="0.75"/>
<line x1="192.37" y1="346" x2="194.57" y2="346" stroke="#6a6a6a" stroke-width="0.8"/>
<rect x="190.92" y="368.00" width="4.30" height="7.30" fill="#1B4F8C"/>
<line x1="188.76999999999998" y1="375.3" x2="188.76999999999998" y2="376.3" stroke="#5a5a5a" stroke-width="0.5"/>
<text x="189.26999999999998" y="379.2" font-size="2.0" text-anchor="end" font-weight="bold" fill="#5a5a5a" stroke="#5a5a5a" stroke-width="0.12" transform="rotate(-42 189.26999999999998 379.2)" textLength="21" lengthAdjust="spacingAndGlyphs">Maternal complications</text>
<line x1="202.31" y1="362.3" x2="202.31" y2="369.1" stroke="#8a8a8a" stroke-width="0.75"/>
<line x1="201.21" y1="362.3" x2="203.41" y2="362.3" stroke="#6a6a6a" stroke-width="0.8"/>
<rect x="199.76" y="369.10" width="4.30" height="6.20" fill="#F2A22C"/>
<line x1="206.61" y1="326.4" x2="206.61" y2="352" stroke="#8a8a8a" stroke-width="0.75"/>
<line x1="205.51000000000002" y1="326.4" x2="207.71" y2="326.4" stroke="#6a6a6a" stroke-width="0.8"/>
<rect x="204.06" y="352.00" width="4.30" height="23.30" fill="#1E9A95"/>
<line x1="210.91" y1="357.4" x2="210.91" y2="367" stroke="#8a8a8a" stroke-width="0.75"/>
<line x1="209.81" y1="357.4" x2="212.01" y2="357.4" stroke="#6a6a6a" stroke-width="0.8"/>
<rect x="208.36" y="367.00" width="4.30" height="8.30" fill="#1B4F8C"/>
<line x1="206.20999999999998" y1="375.3" x2="206.20999999999998" y2="376.3" stroke="#5a5a5a" stroke-width="0.5"/>
<text x="206.70999999999998" y="379.2" font-size="2.0" text-anchor="end" font-weight="bold" fill="#5a5a5a" stroke="#5a5a5a" stroke-width="0.12" transform="rotate(-42 206.70999999999998 379.2)" textLength="9.5" lengthAdjust="spacingAndGlyphs">Obesity</text>
<path d="M44 331.40000000000003 V330.3 H55 V331.40000000000003" fill="none" stroke="#6a6a6a" stroke-width="0.45"/>
<path d="M49.30 327.85 L49.30 329.15 M48.74 328.18 L49.86 328.82 M49.86 328.18 L48.74 328.82 " stroke="#111" stroke-width="0.4" fill="none"/>
<path d="M78.5 341.8 V340.7 H85.9 V341.8" fill="none" stroke="#6a6a6a" stroke-width="0.45"/>
<path d="M82.30 337.55 L82.30 338.85 M81.74 337.88 L82.86 338.52 M82.86 337.88 L81.74 338.52 " stroke="#111" stroke-width="0.4" fill="none"/>
<path d="M112.4 334.70000000000005 V333.6 H119.8 V334.70000000000005" fill="none" stroke="#6a6a6a" stroke-width="0.45"/>
<path d="M115.00 330.95 L115.00 332.25 M114.44 331.28 L115.56 331.93 M115.56 331.28 L114.44 331.93 " stroke="#111" stroke-width="0.4" fill="none"/>
<path d="M129.2 338.6 V337.5 H141.7 V338.6" fill="none" stroke="#6a6a6a" stroke-width="0.45"/>
<text x="135.45" y="336.4" font-size="2.2" text-anchor="middle" font-weight="normal" fill="#4a4a4a" stroke="#4a4a4a" stroke-width="0.14" textLength="7.8" lengthAdjust="spacingAndGlyphs">0.0xx</text>
<path d="M146.4 338.6 V337.5 H159.7 V338.6" fill="none" stroke="#6a6a6a" stroke-width="0.45"/>
<text x="153.05" y="336.4" font-size="2.2" text-anchor="middle" font-weight="normal" fill="#4a4a4a" stroke="#4a4a4a" stroke-width="0.14" textLength="7.8" lengthAdjust="spacingAndGlyphs">0.0xx</text>
<path d="M198.1 324.20000000000005 V323.1 H213.5 V324.20000000000005 M205.4 323.1 V324.20000000000005" fill="none" stroke="#6a6a6a" stroke-width="0.45"/>
<path d="M202.00 320.35 L202.00 321.65 M201.44 320.68 L202.56 321.32 M202.56 320.68 L201.44 321.32 " stroke="#111" stroke-width="0.4" fill="none"/>
<text x="209.6" y="321.8" font-size="2.2" text-anchor="middle" font-weight="normal" fill="#4a4a4a" stroke="#4a4a4a" stroke-width="0.14" textLength="6.8" lengthAdjust="spacingAndGlyphs">0.0xx</text>
<line x1="245.1" y1="309.6" x2="245.1" y2="374.8" stroke="#5a5a5a" stroke-width="0.65"/>
<line x1="244.0" y1="309.8" x2="245.1" y2="309.8" stroke="#5a5a5a" stroke-width="0.5"/>
<text x="243.75" y="310.8" font-size="3.2" text-anchor="end" font-weight="normal" fill="#4a4a4a" stroke="#4a4a4a" stroke-width="0.1" textLength="4.6" lengthAdjust="spacingAndGlyphs">0.8</text>
<line x1="244.0" y1="326" x2="245.1" y2="326" stroke="#5a5a5a" stroke-width="0.5"/>
<text x="243.75" y="327.0" font-size="3.2" text-anchor="end" font-weight="normal" fill="#4a4a4a" stroke="#4a4a4a" stroke-width="0.1" textLength="4.6" lengthAdjust="spacingAndGlyphs">0.6</text>
<line x1="244.0" y1="342.4" x2="245.1" y2="342.4" stroke="#5a5a5a" stroke-width="0.5"/>
<text x="243.75" y="343.4" font-size="3.2" text-anchor="end" font-weight="normal" fill="#4a4a4a" stroke="#4a4a4a" stroke-width="0.1" textLength="4.6" lengthAdjust="spacingAndGlyphs">0.4</text>
<line x1="244.0" y1="358.8" x2="245.1" y2="358.8" stroke="#5a5a5a" stroke-width="0.5"/>
<text x="243.75" y="359.8" font-size="3.2" text-anchor="end" font-weight="normal" fill="#4a4a4a" stroke="#4a4a4a" stroke-width="0.1" textLength="4.6" lengthAdjust="spacingAndGlyphs">0.2</text>
<line x1="244.0" y1="374.8" x2="245.1" y2="374.8" stroke="#5a5a5a" stroke-width="0.5"/>
<text x="243.75" y="375.8" font-size="3.2" text-anchor="end" font-weight="normal" fill="#4a4a4a" stroke="#4a4a4a" stroke-width="0.1" textLength="1.5" lengthAdjust="spacingAndGlyphs">0</text>
<text x="231.9" y="341.25" font-size="2.7" text-anchor="middle" font-weight="bold" fill="#3a3a3a" stroke="#3a3a3a" stroke-width="0.1" transform="rotate(-90 231.9 341.25)" textLength="25" lengthAdjust="spacingAndGlyphs">Ratio Tregs/Th17</text>
<text x="236.9" y="341.6" font-size="3.2" text-anchor="middle" font-weight="bold" fill="#3a3a3a" stroke="#3a3a3a" stroke-width="0.1" transform="rotate(-90 236.9 341.6)" textLength="9.4" lengthAdjust="spacingAndGlyphs">[cells]</text>
<line x1="245" y1="374.6" x2="314.7" y2="374.6" stroke="#5a5a5a" stroke-width="0.65"/>
<line x1="251.00000000000003" y1="361.3" x2="251.00000000000003" y2="369.2" stroke="#8a8a8a" stroke-width="0.75"/>
<line x1="249.90000000000003" y1="361.3" x2="252.10000000000002" y2="361.3" stroke="#6a6a6a" stroke-width="0.8"/>
<rect x="247.80" y="369.20" width="5.60" height="5.40" fill="#F2A22C"/>
<line x1="256.59999999999997" y1="347" x2="256.59999999999997" y2="367.8" stroke="#8a8a8a" stroke-width="0.75"/>
<line x1="255.49999999999997" y1="347" x2="257.7" y2="347" stroke="#6a6a6a" stroke-width="0.8"/>
<rect x="253.40" y="367.80" width="5.60" height="6.80" fill="#1E9A95"/>
<line x1="262.2" y1="332.8" x2="262.2" y2="357.5" stroke="#8a8a8a" stroke-width="0.75"/>
<line x1="261.09999999999997" y1="332.8" x2="263.3" y2="332.8" stroke="#6a6a6a" stroke-width="0.8"/>
<rect x="259.00" y="357.50" width="5.60" height="17.10" fill="#1B4F8C"/>
<line x1="256.2" y1="374.6" x2="256.2" y2="375.6" stroke="#5a5a5a" stroke-width="0.5"/>
<text x="256.7" y="378.5" font-size="2.3" text-anchor="end" font-weight="bold" fill="#5a5a5a" stroke="#5a5a5a" stroke-width="0.12" transform="rotate(-42 256.7 378.5)" textLength="7.6" lengthAdjust="spacingAndGlyphs">GDM1</text>
<line x1="273.6" y1="361.3" x2="273.6" y2="369.2" stroke="#8a8a8a" stroke-width="0.75"/>
<line x1="272.5" y1="361.3" x2="274.70000000000005" y2="361.3" stroke="#6a6a6a" stroke-width="0.8"/>
<rect x="270.40" y="369.20" width="5.60" height="5.40" fill="#F2A22C"/>
<line x1="279.20000000000005" y1="339" x2="279.20000000000005" y2="362.1" stroke="#8a8a8a" stroke-width="0.75"/>
<line x1="278.1" y1="339" x2="280.30000000000007" y2="339" stroke="#6a6a6a" stroke-width="0.8"/>
<rect x="276.00" y="362.10" width="5.60" height="12.50" fill="#1E9A95"/>
<line x1="284.8" y1="346.2" x2="284.8" y2="365.5" stroke="#8a8a8a" stroke-width="0.75"/>
<line x1="283.7" y1="346.2" x2="285.90000000000003" y2="346.2" stroke="#6a6a6a" stroke-width="0.8"/>
<rect x="281.60" y="365.50" width="5.60" height="9.10" fill="#1B4F8C"/>
<line x1="278.8" y1="374.6" x2="278.8" y2="375.6" stroke="#5a5a5a" stroke-width="0.5"/>
<text x="279.3" y="378.5" font-size="2.3" text-anchor="end" font-weight="bold" fill="#5a5a5a" stroke="#5a5a5a" stroke-width="0.12" transform="rotate(-42 279.3 378.5)" textLength="6.8" lengthAdjust="spacingAndGlyphs">GDM2</text>
<line x1="296.2" y1="361.3" x2="296.2" y2="369.2" stroke="#8a8a8a" stroke-width="0.75"/>
<line x1="295.09999999999997" y1="361.3" x2="297.3" y2="361.3" stroke="#6a6a6a" stroke-width="0.8"/>
<rect x="293.00" y="369.20" width="5.60" height="5.40" fill="#F2A22C"/>
<line x1="301.8" y1="347.9" x2="301.8" y2="360.7" stroke="#8a8a8a" stroke-width="0.75"/>
<line x1="300.7" y1="347.9" x2="302.90000000000003" y2="347.9" stroke="#6a6a6a" stroke-width="0.8"/>
<rect x="298.60" y="360.70" width="5.60" height="13.90" fill="#1E9A95"/>
<line x1="307.4" y1="332.2" x2="307.4" y2="364.7" stroke="#8a8a8a" stroke-width="0.75"/>
<line x1="306.29999999999995" y1="332.2" x2="308.5" y2="332.2" stroke="#6a6a6a" stroke-width="0.8"/>
<rect x="304.20" y="364.70" width="5.60" height="9.90" fill="#1B4F8C"/>
<line x1="301.4" y1="374.6" x2="301.4" y2="375.6" stroke="#5a5a5a" stroke-width="0.5"/>
<text x="301.9" y="378.5" font-size="2.3" text-anchor="end" font-weight="bold" fill="#5a5a5a" stroke="#5a5a5a" stroke-width="0.12" transform="rotate(-42 301.9 378.5)" textLength="5" lengthAdjust="spacingAndGlyphs">IGT</text>
<path d="M249.6 330.0 V328.9 H262.6 V330.0" fill="none" stroke="#6a6a6a" stroke-width="0.45"/>
<path d="M256.10 326.75 L256.10 328.05 M255.54 327.07 L256.66 327.72 M256.66 327.07 L255.54 327.72 " stroke="#111" stroke-width="0.4" fill="none"/>
<path d="M272.4 338.70000000000005 V337.6 H278.3 V338.70000000000005" fill="none" stroke="#6a6a6a" stroke-width="0.45"/>
<text x="275.35" y="336" font-size="2.2" text-anchor="middle" font-weight="normal" fill="#4a4a4a" stroke="#4a4a4a" stroke-width="0.14" textLength="5.5" lengthAdjust="spacingAndGlyphs">0.0xx</text>
<path d="M294 345.70000000000005 V344.6 H300.5 V345.70000000000005" fill="none" stroke="#6a6a6a" stroke-width="0.45"/>
<text x="297.25" y="343.5" font-size="2.2" text-anchor="middle" font-weight="normal" fill="#4a4a4a" stroke="#4a4a4a" stroke-width="0.14" textLength="5.5" lengthAdjust="spacingAndGlyphs">0.0xx</text>
<rect x="41.20" y="397.20" width="4.20" height="2.40" fill="#F2A22C"/>
<text x="47.6" y="399.4" font-size="3.0" text-anchor="start" font-weight="normal" fill="#555" stroke="#555" stroke-width="0.1" textLength="3.6" lengthAdjust="spacingAndGlyphs">HC</text>
<rect x="60.40" y="397.20" width="4.20" height="2.40" fill="#1E9A95"/>
<text x="66.8" y="399.4" font-size="3.0" text-anchor="start" font-weight="normal" fill="#555" stroke="#555" stroke-width="0.1" textLength="10.7" lengthAdjust="spacingAndGlyphs">T1D lower</text>
<rect x="86.00" y="397.20" width="4.20" height="2.40" fill="#1B4F8C"/>
<text x="92.5" y="399.4" font-size="3.0" text-anchor="start" font-weight="normal" fill="#555" stroke="#555" stroke-width="0.1" textLength="13.9" lengthAdjust="spacingAndGlyphs">T1D higher</text>
<rect x="242.70" y="388.90" width="4.20" height="2.40" fill="#F2A22C"/>
<text x="248.7" y="391.1" font-size="3.0" text-anchor="start" font-weight="normal" fill="#555" stroke="#555" stroke-width="0.1" textLength="3.8" lengthAdjust="spacingAndGlyphs">HC</text>
<rect x="259.40" y="388.90" width="4.20" height="2.40" fill="#1E9A95"/>
<text x="265.1" y="391.1" font-size="3.0" text-anchor="start" font-weight="normal" fill="#555" stroke="#555" stroke-width="0.1" textLength="12.4" lengthAdjust="spacingAndGlyphs">T1D lower</text>
<rect x="284.00" y="388.90" width="4.20" height="2.40" fill="#1B4F8C"/>
<text x="290.4" y="391.1" font-size="3.0" text-anchor="start" font-weight="normal" fill="#555" stroke="#555" stroke-width="0.1" textLength="12.8" lengthAdjust="spacingAndGlyphs">T1D higher</text>
</svg></body></html>
